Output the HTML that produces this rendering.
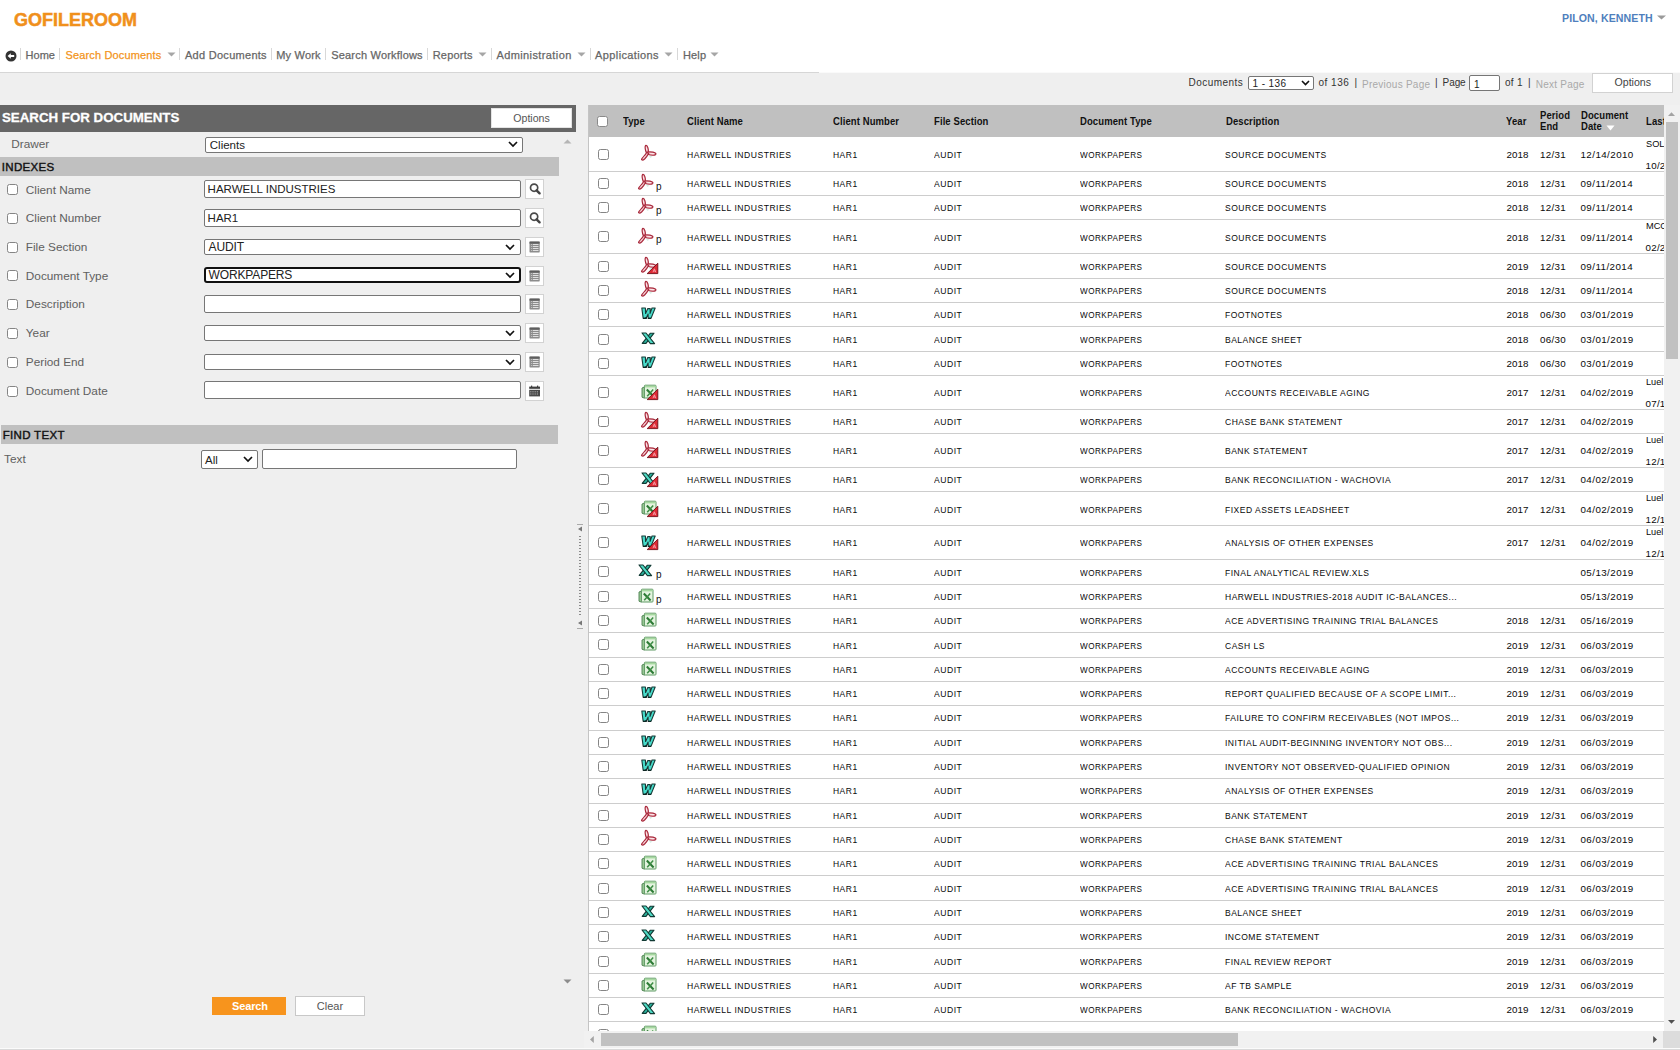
<!DOCTYPE html>
<html><head><meta charset="utf-8"><title>GoFileRoom</title>
<style>
html,body{margin:0;padding:0}
body{width:1680px;height:1050px;overflow:hidden;position:relative;background:#efefef;font-family:"Liberation Sans", sans-serif}
.t{position:absolute;white-space:nowrap;font-family:"Liberation Sans", sans-serif}
.b{position:absolute;box-sizing:content-box}
.cb{width:9px;height:9px;border:1px solid #858585;border-radius:2.5px;background:#fff}
.inp{background:#fff;border:1px solid #767676;border-radius:2px;width:315px}
.sel{background:#fff;border:1px solid #767676}
svg.b{overflow:visible}
</style></head><body>
<svg width="0" height="0" style="position:absolute">
<defs>
<g id="i_pdf">
 <path d="M5.6 8.2 C4.0 5.0 3.6 0.6 5.0 0.4 C6.6 0.2 7.8 4.8 7.3 7.8 Z" fill="#f5c2ca" stroke="#a8293b" stroke-width="1.2"/>
 <path d="M6.8 7.0 C9.8 6.6 14.8 7.2 14.9 8.9 C15.0 10.6 10.2 10.6 6.8 9.3 Z" fill="#f5c2ca" stroke="#a8293b" stroke-width="1.2"/>
 <path d="M5.8 7.2 C4.6 9.6 1.8 12.4 0.8 13.8 C-0.2 15.2 1.8 15.6 3.6 14.0 C5.2 12.4 6.8 10.2 7.6 8.6 Z" fill="#f5c2ca" stroke="#a8293b" stroke-width="1.2"/>
 <path d="M5.3 2.5 L5.9 5.2 M9.2 8.4 L13.2 8.6 M4.6 10.6 L2.2 13.4" stroke="#fff" stroke-width="0.7" opacity="0.85"/>
 <path d="M7.5 10.2 L9.5 13.0 L11.5 11.4Z" fill="#a9d6c6" opacity="0.45"/>
</g>
<g id="i_doc">
 <path d="M0.8 1 L4.4 1 L4.6 6.4 L6.8 1.6 L9.2 1.6 L9.1 6.4 L11.0 1 L14.2 1 L10.0 11.4 L7.2 11.4 L7.1 7.0 L5.0 11.4 L2.2 11.4 Z" fill="#46dccb" stroke="#173a36" stroke-width="1.1" stroke-linejoin="round"/>
 <path d="M2.2 11.4 L5.0 11.4 L5.6 10.2 M7.2 11.4 L10 11.4" stroke="#0d2522" stroke-width="1.3"/>
</g>
<g id="i_xls">
 <path d="M13 1.2 L9.4 1.2 L1.2 11.4 L5 11.4 Z" fill="#2bb59f" stroke="#123a34" stroke-width="1.1" stroke-linejoin="round"/>
 <path d="M1 1 L5 1 L13.6 11.6 L9.4 11.6 Z" fill="#4fdcc6" stroke="#123a34" stroke-width="1.1" stroke-linejoin="round"/>
</g>
<g id="i_xlsx">
 <path d="M1 4 L3.5 3 L3.5 14.2 L1 13.2 Z" fill="#9ccc98" stroke="#4a7f4e" stroke-width="0.9"/>
 <rect x="3.4" y="1.2" width="11.6" height="12.8" rx="0.8" fill="#e4f4df" stroke="#5f9a64" stroke-width="1"/>
 <path d="M3.8 2.6 H14.6" stroke="#a6d9a0" stroke-width="1.6"/>
 <path d="M5.8 5.6 L12.6 12.4" stroke="#2c7a35" stroke-width="2.1"/>
 <path d="M12.2 5.6 L6.2 12.2" stroke="#3c8c44" stroke-width="1.5"/>
</g>
<g id="i_corner">
 <path d="M11.8 1.2 L11.8 11.6 L1.2 11.6 Z" fill="#de2a35" stroke="#6e0d16" stroke-width="0.9" stroke-linejoin="round"/>
 <path d="M7 10.2 L8.4 6.8 L9.8 10.2 M7.6 9 H9.2" stroke="#f6b0b8" stroke-width="0.8" fill="none"/>
</g>
</defs></svg>
<div class="b" style="left:0px;top:0px;width:1680px;height:72px;background:#fff"></div><div class="b" style="left:0px;top:72px;width:819px;height:1px;background:#d6d6d6"></div><div class="b" style="left:819px;top:72px;width:861px;height:1px;background:#fafafa"></div><div class="t" style="left:14.0px;top:11px;font-size:18px;line-height:18px;color:#f0901c;font-weight:bold;letter-spacing:0px;-webkit-text-stroke:0.5px #f0901c">GOFILEROOM</div><div class="t" style="left:1562.0px;top:13px;font-size:10.6px;line-height:10.6px;color:#4f7fbd;font-weight:bold;letter-spacing:0.1px;">PILON, KENNETH</div><svg class="b" style="left:1656px;top:15px" width="11" height="5"><path d="M1 0.5 L10 0.5 L5.5 4.5Z" fill="#9a9a9a"/></svg><svg class="b" style="left:5px;top:50px" width="12" height="12"><circle cx="6" cy="6" r="5.5" fill="#333"/><path d="M2.6 6 L5.8 3.2 L5.8 4.9 L9.2 4.9 L9.2 7.1 L5.8 7.1 L5.8 8.8Z" fill="#fff"/></svg><div class="b" style="left:20px;top:48px;width:1px;height:12px;background:#d8d8d8"></div><div class="b" style="left:59px;top:48px;width:1px;height:12px;background:#d8d8d8"></div><div class="b" style="left:179px;top:48px;width:1px;height:12px;background:#d8d8d8"></div><div class="b" style="left:271px;top:48px;width:1px;height:12px;background:#d8d8d8"></div><div class="b" style="left:325px;top:48px;width:1px;height:12px;background:#d8d8d8"></div><div class="b" style="left:427px;top:48px;width:1px;height:12px;background:#d8d8d8"></div><div class="b" style="left:491px;top:48px;width:1px;height:12px;background:#d8d8d8"></div><div class="b" style="left:590px;top:48px;width:1px;height:12px;background:#d8d8d8"></div><div class="b" style="left:677px;top:48px;width:1px;height:12px;background:#d8d8d8"></div><div class="t" style="left:25.6px;top:50px;font-size:11px;line-height:11px;color:#666;font-weight:normal;letter-spacing:0px;-webkit-text-stroke:0.25px #666">Home</div><div class="t" style="left:65.5px;top:50px;font-size:11px;line-height:11px;color:#f39420;font-weight:normal;letter-spacing:0.15px;-webkit-text-stroke:0.25px #f39420">Search Documents</div><div class="t" style="left:185.0px;top:50px;font-size:11px;line-height:11px;color:#666;font-weight:normal;letter-spacing:0.28px;-webkit-text-stroke:0.25px #666">Add Documents</div><div class="t" style="left:276.2px;top:50px;font-size:11px;line-height:11px;color:#666;font-weight:normal;letter-spacing:0.2px;-webkit-text-stroke:0.25px #666">My Work</div><div class="t" style="left:331.2px;top:50px;font-size:11px;line-height:11px;color:#666;font-weight:normal;letter-spacing:0.2px;-webkit-text-stroke:0.25px #666">Search Workflows</div><div class="t" style="left:432.7px;top:50px;font-size:11px;line-height:11px;color:#666;font-weight:normal;letter-spacing:0.2px;-webkit-text-stroke:0.25px #666">Reports</div><div class="t" style="left:496.4px;top:50px;font-size:11px;line-height:11px;color:#666;font-weight:normal;letter-spacing:0.4px;-webkit-text-stroke:0.25px #666">Administration</div><div class="t" style="left:595.1px;top:50px;font-size:11px;line-height:11px;color:#666;font-weight:normal;letter-spacing:0.38px;-webkit-text-stroke:0.25px #666">Applications</div><div class="t" style="left:682.9px;top:50px;font-size:11px;line-height:11px;color:#666;font-weight:normal;letter-spacing:0.2px;-webkit-text-stroke:0.25px #666">Help</div><svg class="b" style="left:166.5px;top:52px" width="9" height="5"><path d="M0.5 0.5 L8.5 0.5 L4.5 4.5Z" fill="#a6a6a6"/></svg><svg class="b" style="left:477.5px;top:52px" width="9" height="5"><path d="M0.5 0.5 L8.5 0.5 L4.5 4.5Z" fill="#a6a6a6"/></svg><svg class="b" style="left:576.5px;top:52px" width="9" height="5"><path d="M0.5 0.5 L8.5 0.5 L4.5 4.5Z" fill="#a6a6a6"/></svg><svg class="b" style="left:664px;top:52px" width="9" height="5"><path d="M0.5 0.5 L8.5 0.5 L4.5 4.5Z" fill="#a6a6a6"/></svg><svg class="b" style="left:710px;top:52px" width="9" height="5"><path d="M0.5 0.5 L8.5 0.5 L4.5 4.5Z" fill="#a6a6a6"/></svg><div class="t" style="left:1188.5px;top:78px;font-size:10px;line-height:10px;color:#333;font-weight:normal;letter-spacing:0.45px;">Documents</div><div class="b sel" style="left:1248px;top:76px;width:64px;height:12px;border-radius:2px"></div><div class="t" style="left:1252.5px;top:79px;font-size:10px;line-height:10px;color:#222;font-weight:normal;letter-spacing:0.4px;">1 - 136</div><svg class="b" style="left:1301px;top:80px" width="9" height="6"><path d="M1 1 L4.5 4.5 L8 1" stroke="#111" stroke-width="1.6" fill="none"/></svg><div class="t" style="left:1318.5px;top:78px;font-size:10px;line-height:10px;color:#333;font-weight:normal;letter-spacing:0.5px;">of 136</div><div class="t" style="left:1354.5px;top:78px;font-size:10px;line-height:10px;color:#333;font-weight:normal;letter-spacing:0px;">|</div><div class="t" style="left:1362.0px;top:80px;font-size:10px;line-height:10px;color:#a9a9a9;font-weight:normal;letter-spacing:0.25px;">Previous Page</div><div class="t" style="left:1435.0px;top:78px;font-size:10px;line-height:10px;color:#333;font-weight:normal;letter-spacing:0px;">|</div><div class="t" style="left:1442.6px;top:78px;font-size:10px;line-height:10px;color:#333;font-weight:normal;letter-spacing:-0.1px;">Page</div><div class="b sel" style="left:1469px;top:75px;width:29px;height:14px;border-radius:2px"></div><div class="t" style="left:1474.0px;top:80px;font-size:10px;line-height:10px;color:#222;font-weight:normal;letter-spacing:0px;">1</div><div class="t" style="left:1505.0px;top:78px;font-size:10px;line-height:10px;color:#333;font-weight:normal;letter-spacing:0.3px;">of 1</div><div class="t" style="left:1528.0px;top:78px;font-size:10px;line-height:10px;color:#333;font-weight:normal;letter-spacing:0px;">|</div><div class="t" style="left:1535.7px;top:80px;font-size:10px;line-height:10px;color:#a9a9a9;font-weight:normal;letter-spacing:0.25px;">Next Page</div><div class="b" style="left:1592px;top:73px;width:79px;height:18px;background:#fff;border:1px solid #d2d2d2"></div><div class="t" style="left:1614.5px;top:77px;font-size:10.6px;line-height:10.6px;color:#444;font-weight:normal;letter-spacing:0px;">Options</div><div class="b" style="left:0px;top:105px;width:576px;height:27px;background:#666"></div><div class="t" style="left:2.0px;top:111px;font-size:13.3px;line-height:13.3px;color:#fff;font-weight:bold;letter-spacing:0px;-webkit-text-stroke:0.3px #fff">SEARCH FOR DOCUMENTS</div><div class="b" style="left:491px;top:108px;width:79px;height:18px;background:#fff;border:1px solid #e4e4e4"></div><div class="t" style="left:513.3px;top:113px;font-size:10.6px;line-height:10.6px;color:#555;font-weight:normal;letter-spacing:0px;">Options</div><div class="t" style="left:11.2px;top:139px;font-size:11.8px;line-height:11.8px;color:#606060;font-weight:normal;letter-spacing:0px;">Drawer</div><div class="b sel" style="left:205px;top:137px;width:316px;height:14px;border-radius:2px"></div><div class="t" style="left:209.8px;top:140px;font-size:11.5px;line-height:11.5px;color:#222;font-weight:normal;letter-spacing:0px;">Clients</div><svg class="b" style="left:508px;top:141px" width="10" height="7"><path d="M1 1 L5 5 L9 1" stroke="#111" stroke-width="1.7" fill="none"/></svg><svg class="b" style="left:563px;top:139px" width="9" height="5"><path d="M0.5 4.5 L8.5 4.5 L4.5 0.5Z" fill="#b5b5b5"/></svg><div class="b" style="left:0px;top:157px;width:559px;height:19px;background:#c0c0c0"></div><div class="t" style="left:1.7px;top:162px;font-size:11.5px;line-height:11.5px;color:#111;font-weight:normal;letter-spacing:0.35px;-webkit-text-stroke:0.4px #111">INDEXES</div><div class="b cb" style="left:7px;top:184px"></div><div class="t" style="left:25.8px;top:185px;font-size:11.8px;line-height:11.8px;color:#606060;font-weight:normal;letter-spacing:0px;">Client Name</div><div class="b inp" style="left:204px;top:180px;width:315px;height:16px"></div><div class="t" style="left:207.6px;top:184px;font-size:11.5px;line-height:11.5px;color:#222;font-weight:normal;letter-spacing:0px;">HARWELL INDUSTRIES</div><div class="b" style="left:525px;top:179px;width:17px;height:18px;background:#fff;border:1px solid #d2d2d2"></div><svg class="b" style="left:525px;top:179px" width="19" height="20"><circle cx="9.1" cy="8.7" r="3.6" stroke="#4a4a4a" stroke-width="1.7" fill="none"/><path d="M11.6 11.3 L14.6 14.3" stroke="#444" stroke-width="2.4" stroke-linecap="round"/></svg><div class="b cb" style="left:7px;top:213px"></div><div class="t" style="left:25.8px;top:213px;font-size:11.8px;line-height:11.8px;color:#606060;font-weight:normal;letter-spacing:0px;">Client Number</div><div class="b inp" style="left:204px;top:209px;width:315px;height:16px"></div><div class="t" style="left:207.6px;top:213px;font-size:11.5px;line-height:11.5px;color:#222;font-weight:normal;letter-spacing:0px;">HAR1</div><div class="b" style="left:525px;top:208px;width:17px;height:18px;background:#fff;border:1px solid #d2d2d2"></div><svg class="b" style="left:525px;top:208px" width="19" height="20"><circle cx="9.1" cy="8.7" r="3.6" stroke="#4a4a4a" stroke-width="1.7" fill="none"/><path d="M11.6 11.3 L14.6 14.3" stroke="#444" stroke-width="2.4" stroke-linecap="round"/></svg><div class="b cb" style="left:7px;top:242px"></div><div class="t" style="left:25.8px;top:242px;font-size:11.8px;line-height:11.8px;color:#606060;font-weight:normal;letter-spacing:0px;">File Section</div><div class="b sel" style="left:204px;top:239px;width:315px;height:14px;border-radius:2px"></div><svg class="b" style="left:505px;top:244px" width="10" height="7"><path d="M1 1 L5 5 L9 1" stroke="#111" stroke-width="1.7" fill="none"/></svg><div class="t" style="left:208.6px;top:241px;font-size:12px;line-height:12px;color:#222;font-weight:normal;letter-spacing:-0.15px;">AUDIT</div><div class="b" style="left:525px;top:237px;width:17px;height:18px;background:#fff;border:1px solid #d2d2d2"></div><svg class="b" style="left:525px;top:237px" width="19" height="20"><rect x="4.5" y="4.6" width="10.2" height="11" rx="1.2" fill="#8c8c8c"/><rect x="4.5" y="4.6" width="10.2" height="2" fill="#5e5e5e"/><path d="M6.3 7.5h7.2M6.3 9.5h7.2M6.3 11.5h7.2M6.3 13.5h7.2" stroke="#f4f4f4" stroke-width="0.8"/><path d="M7.4 7v7" stroke="#8c8c8c" stroke-width="0.9"/></svg><div class="b cb" style="left:7px;top:270px"></div><div class="t" style="left:25.8px;top:271px;font-size:11.8px;line-height:11.8px;color:#606060;font-weight:normal;letter-spacing:0px;">Document Type</div><div class="b" style="left:204px;top:267px;width:313px;height:12px;border:2px solid #111;border-radius:3px;background:#fff"></div><svg class="b" style="left:505px;top:272px" width="10" height="7"><path d="M1 1 L5 5 L9 1" stroke="#111" stroke-width="1.7" fill="none"/></svg><div class="t" style="left:208.6px;top:269px;font-size:12px;line-height:12px;color:#222;font-weight:normal;letter-spacing:-0.15px;">WORKPAPERS</div><div class="b" style="left:525px;top:266px;width:17px;height:18px;background:#fff;border:1px solid #d2d2d2"></div><svg class="b" style="left:525px;top:266px" width="19" height="20"><rect x="4.5" y="4.6" width="10.2" height="11" rx="1.2" fill="#8c8c8c"/><rect x="4.5" y="4.6" width="10.2" height="2" fill="#5e5e5e"/><path d="M6.3 7.5h7.2M6.3 9.5h7.2M6.3 11.5h7.2M6.3 13.5h7.2" stroke="#f4f4f4" stroke-width="0.8"/><path d="M7.4 7v7" stroke="#8c8c8c" stroke-width="0.9"/></svg><div class="b cb" style="left:7px;top:299px"></div><div class="t" style="left:25.8px;top:299px;font-size:11.8px;line-height:11.8px;color:#606060;font-weight:normal;letter-spacing:0px;">Description</div><div class="b inp" style="left:204px;top:295px;width:315px;height:16px"></div><div class="b" style="left:525px;top:294px;width:17px;height:18px;background:#fff;border:1px solid #d2d2d2"></div><svg class="b" style="left:525px;top:294px" width="19" height="20"><rect x="4.5" y="4.6" width="10.2" height="11" rx="1.2" fill="#8c8c8c"/><rect x="4.5" y="4.6" width="10.2" height="2" fill="#5e5e5e"/><path d="M6.3 7.5h7.2M6.3 9.5h7.2M6.3 11.5h7.2M6.3 13.5h7.2" stroke="#f4f4f4" stroke-width="0.8"/><path d="M7.4 7v7" stroke="#8c8c8c" stroke-width="0.9"/></svg><div class="b cb" style="left:7px;top:328px"></div><div class="t" style="left:25.8px;top:328px;font-size:11.8px;line-height:11.8px;color:#606060;font-weight:normal;letter-spacing:0px;">Year</div><div class="b sel" style="left:204px;top:325px;width:315px;height:14px;border-radius:2px"></div><svg class="b" style="left:505px;top:330px" width="10" height="7"><path d="M1 1 L5 5 L9 1" stroke="#111" stroke-width="1.7" fill="none"/></svg><div class="b" style="left:525px;top:323px;width:17px;height:18px;background:#fff;border:1px solid #d2d2d2"></div><svg class="b" style="left:525px;top:323px" width="19" height="20"><rect x="4.5" y="4.6" width="10.2" height="11" rx="1.2" fill="#8c8c8c"/><rect x="4.5" y="4.6" width="10.2" height="2" fill="#5e5e5e"/><path d="M6.3 7.5h7.2M6.3 9.5h7.2M6.3 11.5h7.2M6.3 13.5h7.2" stroke="#f4f4f4" stroke-width="0.8"/><path d="M7.4 7v7" stroke="#8c8c8c" stroke-width="0.9"/></svg><div class="b cb" style="left:7px;top:357px"></div><div class="t" style="left:25.8px;top:357px;font-size:11.8px;line-height:11.8px;color:#606060;font-weight:normal;letter-spacing:0px;">Period End</div><div class="b sel" style="left:204px;top:354px;width:315px;height:14px;border-radius:2px"></div><svg class="b" style="left:505px;top:359px" width="10" height="7"><path d="M1 1 L5 5 L9 1" stroke="#111" stroke-width="1.7" fill="none"/></svg><div class="b" style="left:525px;top:352px;width:17px;height:18px;background:#fff;border:1px solid #d2d2d2"></div><svg class="b" style="left:525px;top:352px" width="19" height="20"><rect x="4.5" y="4.6" width="10.2" height="11" rx="1.2" fill="#8c8c8c"/><rect x="4.5" y="4.6" width="10.2" height="2" fill="#5e5e5e"/><path d="M6.3 7.5h7.2M6.3 9.5h7.2M6.3 11.5h7.2M6.3 13.5h7.2" stroke="#f4f4f4" stroke-width="0.8"/><path d="M7.4 7v7" stroke="#8c8c8c" stroke-width="0.9"/></svg><div class="b cb" style="left:7px;top:386px"></div><div class="t" style="left:25.8px;top:386px;font-size:11.8px;line-height:11.8px;color:#606060;font-weight:normal;letter-spacing:0px;">Document Date</div><div class="b inp" style="left:204px;top:381px;width:315px;height:16px"></div><div class="b" style="left:525px;top:381px;width:17px;height:18px;background:#fff;border:1px solid #d2d2d2"></div><svg class="b" style="left:525px;top:381px" width="19" height="20"><rect x="4.2" y="5.6" width="10.8" height="2.2" fill="#3e3e3e"/><rect x="6" y="4.6" width="1.2" height="1.5" fill="#3e3e3e"/><rect x="12" y="4.6" width="1.2" height="1.5" fill="#3e3e3e"/><rect x="4.2" y="8.8" width="10.8" height="6.6" fill="#4a4a4a"/><path d="M5.2 10.8h8.8M5.2 13h8.8" stroke="#ddd" stroke-width="0.7" stroke-dasharray="1.2 1"/></svg><div class="b" style="left:1px;top:425px;width:557px;height:19px;background:#c0c0c0"></div><div class="t" style="left:2.8px;top:430px;font-size:11.5px;line-height:11.5px;color:#111;font-weight:normal;letter-spacing:0.3px;-webkit-text-stroke:0.4px #111">FIND TEXT</div><div class="t" style="left:4.1px;top:454px;font-size:11.8px;line-height:11.8px;color:#606060;font-weight:normal;letter-spacing:0px;">Text</div><div class="b sel" style="left:201px;top:450px;width:55px;height:17px;border-radius:2px"></div><div class="t" style="left:205.0px;top:455px;font-size:11.5px;line-height:11.5px;color:#222;font-weight:normal;letter-spacing:0px;">All</div><svg class="b" style="left:243px;top:456px" width="10" height="7"><path d="M1 1 L5 5 L9 1" stroke="#111" stroke-width="1.7" fill="none"/></svg><div class="b inp" style="left:262px;top:449px;width:253px;height:18px"></div><svg class="b" style="left:576px;top:524px" width="8" height="105"><path d="M1 0.5h6M1 104.5h6" stroke="#aaa"/><path d="M2 5 L6 2.5 L6 7.5Z M2 99 L6 96.5 L6 101.5Z" fill="#777"/><path d="M4 12 V93" stroke="#8a8a8a" stroke-width="2" stroke-dasharray="1 2"/></svg><svg class="b" style="left:563px;top:979px" width="9" height="5"><path d="M0.5 0.5 L8.5 0.5 L4.5 4.5Z" fill="#8c8c8c"/></svg><div class="b" style="left:212px;top:997px;width:74px;height:18px;background:#f7941d"></div><div class="t" style="left:231.9px;top:1001px;font-size:11px;line-height:11px;color:#fff;font-weight:bold;letter-spacing:-0.1px;">Search</div><div class="b" style="left:295px;top:996px;width:68px;height:18px;background:#fff;border:1px solid #c8c8c8"></div><div class="t" style="left:316.8px;top:1001px;font-size:11px;line-height:11px;color:#555;font-weight:normal;letter-spacing:0px;">Clear</div><div class="b" style="left:588px;top:105px;width:1076px;height:926px;background:#fff;overflow:hidden" id="tbl"><div class="b" style="left:0px;top:0px;width:1076px;height:32px;background:#c0c0c0"></div><div class="b cb" style="left:9px;top:11px;border-color:#8a8a8a"></div><div class="t" style="left:34.5px;top:12px;font-size:10px;line-height:10px;color:#111;font-weight:bold;letter-spacing:0.1px;transform:scaleX(0.95);transform-origin:0 0;">Type</div><div class="t" style="left:99.0px;top:12px;font-size:10px;line-height:10px;color:#111;font-weight:bold;letter-spacing:0.1px;transform:scaleX(0.95);transform-origin:0 0;">Client Name</div><div class="t" style="left:244.5px;top:12px;font-size:10px;line-height:10px;color:#111;font-weight:bold;letter-spacing:0.1px;transform:scaleX(0.95);transform-origin:0 0;">Client Number</div><div class="t" style="left:345.8px;top:12px;font-size:10px;line-height:10px;color:#111;font-weight:bold;letter-spacing:0.1px;transform:scaleX(0.95);transform-origin:0 0;">File Section</div><div class="t" style="left:491.6px;top:12px;font-size:10px;line-height:10px;color:#111;font-weight:bold;letter-spacing:0.1px;transform:scaleX(0.95);transform-origin:0 0;">Document Type</div><div class="t" style="left:637.7px;top:12px;font-size:10px;line-height:10px;color:#111;font-weight:bold;letter-spacing:0.1px;transform:scaleX(0.95);transform-origin:0 0;">Description</div><div class="t" style="left:918.4px;top:12px;font-size:10px;line-height:10px;color:#111;font-weight:bold;letter-spacing:0.1px;transform:scaleX(0.95);transform-origin:0 0;">Year</div><div class="t" style="left:1057.5px;top:12px;font-size:10px;line-height:10px;color:#111;font-weight:bold;letter-spacing:0.1px;transform:scaleX(0.95);transform-origin:0 0;">Last</div><div class="t" style="left:951.8px;top:6px;font-size:10px;line-height:10px;color:#111;font-weight:bold;letter-spacing:0.1px;transform:scaleX(0.95);transform-origin:0 0;">Period</div><div class="t" style="left:951.8px;top:17px;font-size:10px;line-height:10px;color:#111;font-weight:bold;letter-spacing:0.1px;transform:scaleX(0.95);transform-origin:0 0;">End</div><div class="t" style="left:992.5px;top:6px;font-size:10px;line-height:10px;color:#111;font-weight:bold;letter-spacing:0.1px;transform:scaleX(0.95);transform-origin:0 0;">Document</div><div class="t" style="left:992.5px;top:17px;font-size:10px;line-height:10px;color:#111;font-weight:bold;letter-spacing:0.1px;transform:scaleX(0.95);transform-origin:0 0;">Date</div><svg class="b" style="left:1018px;top:20px" width="9" height="6"><path d="M0.5 0.5 L8.5 0.5 L4.5 5.5Z" fill="#fff"/></svg><div class="b" style="left:0px;top:66px;width:1076px;height:1px;background:#cdcdcd"></div><div class="b cb" style="left:10px;top:44px"></div><svg class="b" style="left:53px;top:40px" width="18" height="16"><use href="#i_pdf"/></svg><div class="t" style="left:99.0px;top:45px;font-size:9.8px;line-height:9.8px;color:#0a0a0a;font-weight:normal;letter-spacing:0.56px;transform:scaleX(0.878);transform-origin:0 0;">HARWELL INDUSTRIES</div><div class="t" style="left:244.5px;top:45px;font-size:9.8px;line-height:9.8px;color:#0a0a0a;font-weight:normal;letter-spacing:0.56px;transform:scaleX(0.867);transform-origin:0 0;">HAR1</div><div class="t" style="left:345.8px;top:45px;font-size:9.8px;line-height:9.8px;color:#0a0a0a;font-weight:normal;letter-spacing:0.56px;transform:scaleX(0.878);transform-origin:0 0;">AUDIT</div><div class="t" style="left:491.8px;top:45px;font-size:9.8px;line-height:9.8px;color:#0a0a0a;font-weight:normal;letter-spacing:0.56px;transform:scaleX(0.832);transform-origin:0 0;">WORKPAPERS</div><div class="t" style="left:637.0px;top:45px;font-size:9.8px;line-height:9.8px;color:#0a0a0a;font-weight:normal;letter-spacing:0.56px;transform:scaleX(0.872);transform-origin:0 0;">SOURCE DOCUMENTS</div><div class="t" style="left:918.4px;top:45px;font-size:9.8px;line-height:9.8px;color:#0a0a0a;font-weight:normal;letter-spacing:0.12px;">2018</div><div class="t" style="left:952.0px;top:45px;font-size:9.8px;line-height:9.8px;color:#0a0a0a;font-weight:normal;letter-spacing:0.32px;">12/31</div><div class="t" style="left:992.5px;top:45px;font-size:9.8px;line-height:9.8px;color:#0a0a0a;font-weight:normal;letter-spacing:0.42px;">12/14/2010</div><div class="t" style="left:1057.5px;top:34px;font-size:9.8px;line-height:9.8px;color:#0a0a0a;font-weight:normal;letter-spacing:0px;transform:scaleX(0.94);transform-origin:0 0;">SOL</div><div class="t" style="left:1057.5px;top:56px;font-size:9.8px;line-height:9.8px;color:#0a0a0a;font-weight:normal;letter-spacing:0.25px;">10/2</div><div class="b" style="left:0px;top:90px;width:1076px;height:1px;background:#cdcdcd"></div><div class="b cb" style="left:10px;top:73px"></div><svg class="b" style="left:50px;top:69px" width="18" height="16"><use href="#i_pdf"/></svg><div class="t" style="left:68.0px;top:77px;font-size:10px;line-height:10px;color:#111;font-weight:normal;letter-spacing:0px;">p</div><div class="t" style="left:99.0px;top:74px;font-size:9.8px;line-height:9.8px;color:#0a0a0a;font-weight:normal;letter-spacing:0.56px;transform:scaleX(0.878);transform-origin:0 0;">HARWELL INDUSTRIES</div><div class="t" style="left:244.5px;top:74px;font-size:9.8px;line-height:9.8px;color:#0a0a0a;font-weight:normal;letter-spacing:0.56px;transform:scaleX(0.867);transform-origin:0 0;">HAR1</div><div class="t" style="left:345.8px;top:74px;font-size:9.8px;line-height:9.8px;color:#0a0a0a;font-weight:normal;letter-spacing:0.56px;transform:scaleX(0.878);transform-origin:0 0;">AUDIT</div><div class="t" style="left:491.8px;top:74px;font-size:9.8px;line-height:9.8px;color:#0a0a0a;font-weight:normal;letter-spacing:0.56px;transform:scaleX(0.832);transform-origin:0 0;">WORKPAPERS</div><div class="t" style="left:637.0px;top:74px;font-size:9.8px;line-height:9.8px;color:#0a0a0a;font-weight:normal;letter-spacing:0.56px;transform:scaleX(0.872);transform-origin:0 0;">SOURCE DOCUMENTS</div><div class="t" style="left:918.4px;top:74px;font-size:9.8px;line-height:9.8px;color:#0a0a0a;font-weight:normal;letter-spacing:0.12px;">2018</div><div class="t" style="left:952.0px;top:74px;font-size:9.8px;line-height:9.8px;color:#0a0a0a;font-weight:normal;letter-spacing:0.32px;">12/31</div><div class="t" style="left:992.5px;top:74px;font-size:9.8px;line-height:9.8px;color:#0a0a0a;font-weight:normal;letter-spacing:0.42px;">09/11/2014</div><div class="b" style="left:0px;top:114px;width:1076px;height:1px;background:#cdcdcd"></div><div class="b cb" style="left:10px;top:97px"></div><svg class="b" style="left:50px;top:93px" width="18" height="16"><use href="#i_pdf"/></svg><div class="t" style="left:68.0px;top:101px;font-size:10px;line-height:10px;color:#111;font-weight:normal;letter-spacing:0px;">p</div><div class="t" style="left:99.0px;top:98px;font-size:9.8px;line-height:9.8px;color:#0a0a0a;font-weight:normal;letter-spacing:0.56px;transform:scaleX(0.878);transform-origin:0 0;">HARWELL INDUSTRIES</div><div class="t" style="left:244.5px;top:98px;font-size:9.8px;line-height:9.8px;color:#0a0a0a;font-weight:normal;letter-spacing:0.56px;transform:scaleX(0.867);transform-origin:0 0;">HAR1</div><div class="t" style="left:345.8px;top:98px;font-size:9.8px;line-height:9.8px;color:#0a0a0a;font-weight:normal;letter-spacing:0.56px;transform:scaleX(0.878);transform-origin:0 0;">AUDIT</div><div class="t" style="left:491.8px;top:98px;font-size:9.8px;line-height:9.8px;color:#0a0a0a;font-weight:normal;letter-spacing:0.56px;transform:scaleX(0.832);transform-origin:0 0;">WORKPAPERS</div><div class="t" style="left:637.0px;top:98px;font-size:9.8px;line-height:9.8px;color:#0a0a0a;font-weight:normal;letter-spacing:0.56px;transform:scaleX(0.872);transform-origin:0 0;">SOURCE DOCUMENTS</div><div class="t" style="left:918.4px;top:98px;font-size:9.8px;line-height:9.8px;color:#0a0a0a;font-weight:normal;letter-spacing:0.12px;">2018</div><div class="t" style="left:952.0px;top:98px;font-size:9.8px;line-height:9.8px;color:#0a0a0a;font-weight:normal;letter-spacing:0.32px;">12/31</div><div class="t" style="left:992.5px;top:98px;font-size:9.8px;line-height:9.8px;color:#0a0a0a;font-weight:normal;letter-spacing:0.42px;">09/11/2014</div><div class="b" style="left:0px;top:148px;width:1076px;height:1px;background:#cdcdcd"></div><div class="b cb" style="left:10px;top:126px"></div><svg class="b" style="left:50px;top:123px" width="18" height="16"><use href="#i_pdf"/></svg><div class="t" style="left:68.0px;top:130px;font-size:10px;line-height:10px;color:#111;font-weight:normal;letter-spacing:0px;">p</div><div class="t" style="left:99.0px;top:128px;font-size:9.8px;line-height:9.8px;color:#0a0a0a;font-weight:normal;letter-spacing:0.56px;transform:scaleX(0.878);transform-origin:0 0;">HARWELL INDUSTRIES</div><div class="t" style="left:244.5px;top:128px;font-size:9.8px;line-height:9.8px;color:#0a0a0a;font-weight:normal;letter-spacing:0.56px;transform:scaleX(0.867);transform-origin:0 0;">HAR1</div><div class="t" style="left:345.8px;top:128px;font-size:9.8px;line-height:9.8px;color:#0a0a0a;font-weight:normal;letter-spacing:0.56px;transform:scaleX(0.878);transform-origin:0 0;">AUDIT</div><div class="t" style="left:491.8px;top:128px;font-size:9.8px;line-height:9.8px;color:#0a0a0a;font-weight:normal;letter-spacing:0.56px;transform:scaleX(0.832);transform-origin:0 0;">WORKPAPERS</div><div class="t" style="left:637.0px;top:128px;font-size:9.8px;line-height:9.8px;color:#0a0a0a;font-weight:normal;letter-spacing:0.56px;transform:scaleX(0.872);transform-origin:0 0;">SOURCE DOCUMENTS</div><div class="t" style="left:918.4px;top:128px;font-size:9.8px;line-height:9.8px;color:#0a0a0a;font-weight:normal;letter-spacing:0.12px;">2018</div><div class="t" style="left:952.0px;top:128px;font-size:9.8px;line-height:9.8px;color:#0a0a0a;font-weight:normal;letter-spacing:0.32px;">12/31</div><div class="t" style="left:992.5px;top:128px;font-size:9.8px;line-height:9.8px;color:#0a0a0a;font-weight:normal;letter-spacing:0.42px;">09/11/2014</div><div class="t" style="left:1057.5px;top:116px;font-size:9.8px;line-height:9.8px;color:#0a0a0a;font-weight:normal;letter-spacing:0px;transform:scaleX(0.94);transform-origin:0 0;">MCC</div><div class="t" style="left:1057.5px;top:138px;font-size:9.8px;line-height:9.8px;color:#0a0a0a;font-weight:normal;letter-spacing:0.25px;">02/2</div><div class="b" style="left:0px;top:173px;width:1076px;height:1px;background:#cdcdcd"></div><div class="b cb" style="left:10px;top:156px"></div><svg class="b" style="left:53px;top:152px" width="18" height="16"><use href="#i_pdf"/></svg><svg class="b" style="left:58px;top:157px" width="13" height="13"><use href="#i_corner"/></svg><div class="t" style="left:99.0px;top:157px;font-size:9.8px;line-height:9.8px;color:#0a0a0a;font-weight:normal;letter-spacing:0.56px;transform:scaleX(0.878);transform-origin:0 0;">HARWELL INDUSTRIES</div><div class="t" style="left:244.5px;top:157px;font-size:9.8px;line-height:9.8px;color:#0a0a0a;font-weight:normal;letter-spacing:0.56px;transform:scaleX(0.867);transform-origin:0 0;">HAR1</div><div class="t" style="left:345.8px;top:157px;font-size:9.8px;line-height:9.8px;color:#0a0a0a;font-weight:normal;letter-spacing:0.56px;transform:scaleX(0.878);transform-origin:0 0;">AUDIT</div><div class="t" style="left:491.8px;top:157px;font-size:9.8px;line-height:9.8px;color:#0a0a0a;font-weight:normal;letter-spacing:0.56px;transform:scaleX(0.832);transform-origin:0 0;">WORKPAPERS</div><div class="t" style="left:637.0px;top:157px;font-size:9.8px;line-height:9.8px;color:#0a0a0a;font-weight:normal;letter-spacing:0.56px;transform:scaleX(0.872);transform-origin:0 0;">SOURCE DOCUMENTS</div><div class="t" style="left:918.4px;top:157px;font-size:9.8px;line-height:9.8px;color:#0a0a0a;font-weight:normal;letter-spacing:0.12px;">2019</div><div class="t" style="left:952.0px;top:157px;font-size:9.8px;line-height:9.8px;color:#0a0a0a;font-weight:normal;letter-spacing:0.32px;">12/31</div><div class="t" style="left:992.5px;top:157px;font-size:9.8px;line-height:9.8px;color:#0a0a0a;font-weight:normal;letter-spacing:0.42px;">09/11/2014</div><div class="b" style="left:0px;top:197px;width:1076px;height:1px;background:#cdcdcd"></div><div class="b cb" style="left:10px;top:180px"></div><svg class="b" style="left:53px;top:176px" width="18" height="16"><use href="#i_pdf"/></svg><div class="t" style="left:99.0px;top:181px;font-size:9.8px;line-height:9.8px;color:#0a0a0a;font-weight:normal;letter-spacing:0.56px;transform:scaleX(0.878);transform-origin:0 0;">HARWELL INDUSTRIES</div><div class="t" style="left:244.5px;top:181px;font-size:9.8px;line-height:9.8px;color:#0a0a0a;font-weight:normal;letter-spacing:0.56px;transform:scaleX(0.867);transform-origin:0 0;">HAR1</div><div class="t" style="left:345.8px;top:181px;font-size:9.8px;line-height:9.8px;color:#0a0a0a;font-weight:normal;letter-spacing:0.56px;transform:scaleX(0.878);transform-origin:0 0;">AUDIT</div><div class="t" style="left:491.8px;top:181px;font-size:9.8px;line-height:9.8px;color:#0a0a0a;font-weight:normal;letter-spacing:0.56px;transform:scaleX(0.832);transform-origin:0 0;">WORKPAPERS</div><div class="t" style="left:637.0px;top:181px;font-size:9.8px;line-height:9.8px;color:#0a0a0a;font-weight:normal;letter-spacing:0.56px;transform:scaleX(0.872);transform-origin:0 0;">SOURCE DOCUMENTS</div><div class="t" style="left:918.4px;top:181px;font-size:9.8px;line-height:9.8px;color:#0a0a0a;font-weight:normal;letter-spacing:0.12px;">2018</div><div class="t" style="left:952.0px;top:181px;font-size:9.8px;line-height:9.8px;color:#0a0a0a;font-weight:normal;letter-spacing:0.32px;">12/31</div><div class="t" style="left:992.5px;top:181px;font-size:9.8px;line-height:9.8px;color:#0a0a0a;font-weight:normal;letter-spacing:0.42px;">09/11/2014</div><div class="b" style="left:0px;top:221px;width:1076px;height:1px;background:#cdcdcd"></div><div class="b cb" style="left:10px;top:204px"></div><svg class="b" style="left:53px;top:202px" width="18" height="16"><use href="#i_doc"/></svg><div class="t" style="left:99.0px;top:205px;font-size:9.8px;line-height:9.8px;color:#0a0a0a;font-weight:normal;letter-spacing:0.56px;transform:scaleX(0.878);transform-origin:0 0;">HARWELL INDUSTRIES</div><div class="t" style="left:244.5px;top:205px;font-size:9.8px;line-height:9.8px;color:#0a0a0a;font-weight:normal;letter-spacing:0.56px;transform:scaleX(0.867);transform-origin:0 0;">HAR1</div><div class="t" style="left:345.8px;top:205px;font-size:9.8px;line-height:9.8px;color:#0a0a0a;font-weight:normal;letter-spacing:0.56px;transform:scaleX(0.878);transform-origin:0 0;">AUDIT</div><div class="t" style="left:491.8px;top:205px;font-size:9.8px;line-height:9.8px;color:#0a0a0a;font-weight:normal;letter-spacing:0.56px;transform:scaleX(0.832);transform-origin:0 0;">WORKPAPERS</div><div class="t" style="left:637.0px;top:205px;font-size:9.8px;line-height:9.8px;color:#0a0a0a;font-weight:normal;letter-spacing:0.56px;transform:scaleX(0.872);transform-origin:0 0;">FOOTNOTES</div><div class="t" style="left:918.4px;top:205px;font-size:9.8px;line-height:9.8px;color:#0a0a0a;font-weight:normal;letter-spacing:0.12px;">2018</div><div class="t" style="left:952.0px;top:205px;font-size:9.8px;line-height:9.8px;color:#0a0a0a;font-weight:normal;letter-spacing:0.32px;">06/30</div><div class="t" style="left:992.5px;top:205px;font-size:9.8px;line-height:9.8px;color:#0a0a0a;font-weight:normal;letter-spacing:0.42px;">03/01/2019</div><div class="b" style="left:0px;top:246px;width:1076px;height:1px;background:#cdcdcd"></div><div class="b cb" style="left:10px;top:229px"></div><svg class="b" style="left:53px;top:227px" width="18" height="16"><use href="#i_xls"/></svg><div class="t" style="left:99.0px;top:230px;font-size:9.8px;line-height:9.8px;color:#0a0a0a;font-weight:normal;letter-spacing:0.56px;transform:scaleX(0.878);transform-origin:0 0;">HARWELL INDUSTRIES</div><div class="t" style="left:244.5px;top:230px;font-size:9.8px;line-height:9.8px;color:#0a0a0a;font-weight:normal;letter-spacing:0.56px;transform:scaleX(0.867);transform-origin:0 0;">HAR1</div><div class="t" style="left:345.8px;top:230px;font-size:9.8px;line-height:9.8px;color:#0a0a0a;font-weight:normal;letter-spacing:0.56px;transform:scaleX(0.878);transform-origin:0 0;">AUDIT</div><div class="t" style="left:491.8px;top:230px;font-size:9.8px;line-height:9.8px;color:#0a0a0a;font-weight:normal;letter-spacing:0.56px;transform:scaleX(0.832);transform-origin:0 0;">WORKPAPERS</div><div class="t" style="left:637.0px;top:230px;font-size:9.8px;line-height:9.8px;color:#0a0a0a;font-weight:normal;letter-spacing:0.56px;transform:scaleX(0.872);transform-origin:0 0;">BALANCE SHEET</div><div class="t" style="left:918.4px;top:230px;font-size:9.8px;line-height:9.8px;color:#0a0a0a;font-weight:normal;letter-spacing:0.12px;">2018</div><div class="t" style="left:952.0px;top:230px;font-size:9.8px;line-height:9.8px;color:#0a0a0a;font-weight:normal;letter-spacing:0.32px;">06/30</div><div class="t" style="left:992.5px;top:230px;font-size:9.8px;line-height:9.8px;color:#0a0a0a;font-weight:normal;letter-spacing:0.42px;">03/01/2019</div><div class="b" style="left:0px;top:270px;width:1076px;height:1px;background:#cdcdcd"></div><div class="b cb" style="left:10px;top:253px"></div><svg class="b" style="left:53px;top:251px" width="18" height="16"><use href="#i_doc"/></svg><div class="t" style="left:99.0px;top:254px;font-size:9.8px;line-height:9.8px;color:#0a0a0a;font-weight:normal;letter-spacing:0.56px;transform:scaleX(0.878);transform-origin:0 0;">HARWELL INDUSTRIES</div><div class="t" style="left:244.5px;top:254px;font-size:9.8px;line-height:9.8px;color:#0a0a0a;font-weight:normal;letter-spacing:0.56px;transform:scaleX(0.867);transform-origin:0 0;">HAR1</div><div class="t" style="left:345.8px;top:254px;font-size:9.8px;line-height:9.8px;color:#0a0a0a;font-weight:normal;letter-spacing:0.56px;transform:scaleX(0.878);transform-origin:0 0;">AUDIT</div><div class="t" style="left:491.8px;top:254px;font-size:9.8px;line-height:9.8px;color:#0a0a0a;font-weight:normal;letter-spacing:0.56px;transform:scaleX(0.832);transform-origin:0 0;">WORKPAPERS</div><div class="t" style="left:637.0px;top:254px;font-size:9.8px;line-height:9.8px;color:#0a0a0a;font-weight:normal;letter-spacing:0.56px;transform:scaleX(0.872);transform-origin:0 0;">FOOTNOTES</div><div class="t" style="left:918.4px;top:254px;font-size:9.8px;line-height:9.8px;color:#0a0a0a;font-weight:normal;letter-spacing:0.12px;">2018</div><div class="t" style="left:952.0px;top:254px;font-size:9.8px;line-height:9.8px;color:#0a0a0a;font-weight:normal;letter-spacing:0.32px;">06/30</div><div class="t" style="left:992.5px;top:254px;font-size:9.8px;line-height:9.8px;color:#0a0a0a;font-weight:normal;letter-spacing:0.42px;">03/01/2019</div><div class="b" style="left:0px;top:304px;width:1076px;height:1px;background:#cdcdcd"></div><div class="b cb" style="left:10px;top:282px"></div><svg class="b" style="left:53px;top:279px" width="18" height="16"><use href="#i_xlsx"/></svg><svg class="b" style="left:58px;top:283px" width="13" height="13"><use href="#i_corner"/></svg><div class="t" style="left:99.0px;top:283px;font-size:9.8px;line-height:9.8px;color:#0a0a0a;font-weight:normal;letter-spacing:0.56px;transform:scaleX(0.878);transform-origin:0 0;">HARWELL INDUSTRIES</div><div class="t" style="left:244.5px;top:283px;font-size:9.8px;line-height:9.8px;color:#0a0a0a;font-weight:normal;letter-spacing:0.56px;transform:scaleX(0.867);transform-origin:0 0;">HAR1</div><div class="t" style="left:345.8px;top:283px;font-size:9.8px;line-height:9.8px;color:#0a0a0a;font-weight:normal;letter-spacing:0.56px;transform:scaleX(0.878);transform-origin:0 0;">AUDIT</div><div class="t" style="left:491.8px;top:283px;font-size:9.8px;line-height:9.8px;color:#0a0a0a;font-weight:normal;letter-spacing:0.56px;transform:scaleX(0.832);transform-origin:0 0;">WORKPAPERS</div><div class="t" style="left:637.0px;top:283px;font-size:9.8px;line-height:9.8px;color:#0a0a0a;font-weight:normal;letter-spacing:0.56px;transform:scaleX(0.872);transform-origin:0 0;">ACCOUNTS RECEIVABLE AGING</div><div class="t" style="left:918.4px;top:283px;font-size:9.8px;line-height:9.8px;color:#0a0a0a;font-weight:normal;letter-spacing:0.12px;">2017</div><div class="t" style="left:952.0px;top:283px;font-size:9.8px;line-height:9.8px;color:#0a0a0a;font-weight:normal;letter-spacing:0.32px;">12/31</div><div class="t" style="left:992.5px;top:283px;font-size:9.8px;line-height:9.8px;color:#0a0a0a;font-weight:normal;letter-spacing:0.42px;">04/02/2019</div><div class="t" style="left:1057.5px;top:272px;font-size:9.8px;line-height:9.8px;color:#0a0a0a;font-weight:normal;letter-spacing:0px;transform:scaleX(0.94);transform-origin:0 0;">Luel</div><div class="t" style="left:1057.5px;top:294px;font-size:9.8px;line-height:9.8px;color:#0a0a0a;font-weight:normal;letter-spacing:0.25px;">07/1</div><div class="b" style="left:0px;top:328px;width:1076px;height:1px;background:#cdcdcd"></div><div class="b cb" style="left:10px;top:311px"></div><svg class="b" style="left:53px;top:307px" width="18" height="16"><use href="#i_pdf"/></svg><svg class="b" style="left:58px;top:312px" width="13" height="13"><use href="#i_corner"/></svg><div class="t" style="left:99.0px;top:312px;font-size:9.8px;line-height:9.8px;color:#0a0a0a;font-weight:normal;letter-spacing:0.56px;transform:scaleX(0.878);transform-origin:0 0;">HARWELL INDUSTRIES</div><div class="t" style="left:244.5px;top:312px;font-size:9.8px;line-height:9.8px;color:#0a0a0a;font-weight:normal;letter-spacing:0.56px;transform:scaleX(0.867);transform-origin:0 0;">HAR1</div><div class="t" style="left:345.8px;top:312px;font-size:9.8px;line-height:9.8px;color:#0a0a0a;font-weight:normal;letter-spacing:0.56px;transform:scaleX(0.878);transform-origin:0 0;">AUDIT</div><div class="t" style="left:491.8px;top:312px;font-size:9.8px;line-height:9.8px;color:#0a0a0a;font-weight:normal;letter-spacing:0.56px;transform:scaleX(0.832);transform-origin:0 0;">WORKPAPERS</div><div class="t" style="left:637.0px;top:312px;font-size:9.8px;line-height:9.8px;color:#0a0a0a;font-weight:normal;letter-spacing:0.56px;transform:scaleX(0.872);transform-origin:0 0;">CHASE BANK STATEMENT</div><div class="t" style="left:918.4px;top:312px;font-size:9.8px;line-height:9.8px;color:#0a0a0a;font-weight:normal;letter-spacing:0.12px;">2017</div><div class="t" style="left:952.0px;top:312px;font-size:9.8px;line-height:9.8px;color:#0a0a0a;font-weight:normal;letter-spacing:0.32px;">12/31</div><div class="t" style="left:992.5px;top:312px;font-size:9.8px;line-height:9.8px;color:#0a0a0a;font-weight:normal;letter-spacing:0.42px;">04/02/2019</div><div class="b" style="left:0px;top:362px;width:1076px;height:1px;background:#cdcdcd"></div><div class="b cb" style="left:10px;top:340px"></div><svg class="b" style="left:53px;top:336px" width="18" height="16"><use href="#i_pdf"/></svg><svg class="b" style="left:58px;top:341px" width="13" height="13"><use href="#i_corner"/></svg><div class="t" style="left:99.0px;top:341px;font-size:9.8px;line-height:9.8px;color:#0a0a0a;font-weight:normal;letter-spacing:0.56px;transform:scaleX(0.878);transform-origin:0 0;">HARWELL INDUSTRIES</div><div class="t" style="left:244.5px;top:341px;font-size:9.8px;line-height:9.8px;color:#0a0a0a;font-weight:normal;letter-spacing:0.56px;transform:scaleX(0.867);transform-origin:0 0;">HAR1</div><div class="t" style="left:345.8px;top:341px;font-size:9.8px;line-height:9.8px;color:#0a0a0a;font-weight:normal;letter-spacing:0.56px;transform:scaleX(0.878);transform-origin:0 0;">AUDIT</div><div class="t" style="left:491.8px;top:341px;font-size:9.8px;line-height:9.8px;color:#0a0a0a;font-weight:normal;letter-spacing:0.56px;transform:scaleX(0.832);transform-origin:0 0;">WORKPAPERS</div><div class="t" style="left:637.0px;top:341px;font-size:9.8px;line-height:9.8px;color:#0a0a0a;font-weight:normal;letter-spacing:0.56px;transform:scaleX(0.872);transform-origin:0 0;">BANK STATEMENT</div><div class="t" style="left:918.4px;top:341px;font-size:9.8px;line-height:9.8px;color:#0a0a0a;font-weight:normal;letter-spacing:0.12px;">2017</div><div class="t" style="left:952.0px;top:341px;font-size:9.8px;line-height:9.8px;color:#0a0a0a;font-weight:normal;letter-spacing:0.32px;">12/31</div><div class="t" style="left:992.5px;top:341px;font-size:9.8px;line-height:9.8px;color:#0a0a0a;font-weight:normal;letter-spacing:0.42px;">04/02/2019</div><div class="t" style="left:1057.5px;top:330px;font-size:9.8px;line-height:9.8px;color:#0a0a0a;font-weight:normal;letter-spacing:0px;transform:scaleX(0.94);transform-origin:0 0;">Luel</div><div class="t" style="left:1057.5px;top:352px;font-size:9.8px;line-height:9.8px;color:#0a0a0a;font-weight:normal;letter-spacing:0.25px;">12/1</div><div class="b" style="left:0px;top:386px;width:1076px;height:1px;background:#cdcdcd"></div><div class="b cb" style="left:10px;top:369px"></div><svg class="b" style="left:53px;top:367px" width="18" height="16"><use href="#i_xls"/></svg><svg class="b" style="left:58px;top:370px" width="13" height="13"><use href="#i_corner"/></svg><div class="t" style="left:99.0px;top:370px;font-size:9.8px;line-height:9.8px;color:#0a0a0a;font-weight:normal;letter-spacing:0.56px;transform:scaleX(0.878);transform-origin:0 0;">HARWELL INDUSTRIES</div><div class="t" style="left:244.5px;top:370px;font-size:9.8px;line-height:9.8px;color:#0a0a0a;font-weight:normal;letter-spacing:0.56px;transform:scaleX(0.867);transform-origin:0 0;">HAR1</div><div class="t" style="left:345.8px;top:370px;font-size:9.8px;line-height:9.8px;color:#0a0a0a;font-weight:normal;letter-spacing:0.56px;transform:scaleX(0.878);transform-origin:0 0;">AUDIT</div><div class="t" style="left:491.8px;top:370px;font-size:9.8px;line-height:9.8px;color:#0a0a0a;font-weight:normal;letter-spacing:0.56px;transform:scaleX(0.832);transform-origin:0 0;">WORKPAPERS</div><div class="t" style="left:637.0px;top:370px;font-size:9.8px;line-height:9.8px;color:#0a0a0a;font-weight:normal;letter-spacing:0.56px;transform:scaleX(0.872);transform-origin:0 0;">BANK RECONCILIATION - WACHOVIA</div><div class="t" style="left:918.4px;top:370px;font-size:9.8px;line-height:9.8px;color:#0a0a0a;font-weight:normal;letter-spacing:0.12px;">2017</div><div class="t" style="left:952.0px;top:370px;font-size:9.8px;line-height:9.8px;color:#0a0a0a;font-weight:normal;letter-spacing:0.32px;">12/31</div><div class="t" style="left:992.5px;top:370px;font-size:9.8px;line-height:9.8px;color:#0a0a0a;font-weight:normal;letter-spacing:0.42px;">04/02/2019</div><div class="b" style="left:0px;top:420px;width:1076px;height:1px;background:#cdcdcd"></div><div class="b cb" style="left:10px;top:398px"></div><svg class="b" style="left:53px;top:395px" width="18" height="16"><use href="#i_xlsx"/></svg><svg class="b" style="left:58px;top:400px" width="13" height="13"><use href="#i_corner"/></svg><div class="t" style="left:99.0px;top:400px;font-size:9.8px;line-height:9.8px;color:#0a0a0a;font-weight:normal;letter-spacing:0.56px;transform:scaleX(0.878);transform-origin:0 0;">HARWELL INDUSTRIES</div><div class="t" style="left:244.5px;top:400px;font-size:9.8px;line-height:9.8px;color:#0a0a0a;font-weight:normal;letter-spacing:0.56px;transform:scaleX(0.867);transform-origin:0 0;">HAR1</div><div class="t" style="left:345.8px;top:400px;font-size:9.8px;line-height:9.8px;color:#0a0a0a;font-weight:normal;letter-spacing:0.56px;transform:scaleX(0.878);transform-origin:0 0;">AUDIT</div><div class="t" style="left:491.8px;top:400px;font-size:9.8px;line-height:9.8px;color:#0a0a0a;font-weight:normal;letter-spacing:0.56px;transform:scaleX(0.832);transform-origin:0 0;">WORKPAPERS</div><div class="t" style="left:637.0px;top:400px;font-size:9.8px;line-height:9.8px;color:#0a0a0a;font-weight:normal;letter-spacing:0.56px;transform:scaleX(0.872);transform-origin:0 0;">FIXED ASSETS LEADSHEET</div><div class="t" style="left:918.4px;top:400px;font-size:9.8px;line-height:9.8px;color:#0a0a0a;font-weight:normal;letter-spacing:0.12px;">2017</div><div class="t" style="left:952.0px;top:400px;font-size:9.8px;line-height:9.8px;color:#0a0a0a;font-weight:normal;letter-spacing:0.32px;">12/31</div><div class="t" style="left:992.5px;top:400px;font-size:9.8px;line-height:9.8px;color:#0a0a0a;font-weight:normal;letter-spacing:0.42px;">04/02/2019</div><div class="t" style="left:1057.5px;top:388px;font-size:9.8px;line-height:9.8px;color:#0a0a0a;font-weight:normal;letter-spacing:0px;transform:scaleX(0.94);transform-origin:0 0;">Luel</div><div class="t" style="left:1057.5px;top:410px;font-size:9.8px;line-height:9.8px;color:#0a0a0a;font-weight:normal;letter-spacing:0.25px;">12/1</div><div class="b" style="left:0px;top:454px;width:1076px;height:1px;background:#cdcdcd"></div><div class="b cb" style="left:10px;top:432px"></div><svg class="b" style="left:53px;top:430px" width="18" height="16"><use href="#i_doc"/></svg><svg class="b" style="left:58px;top:433px" width="13" height="13"><use href="#i_corner"/></svg><div class="t" style="left:99.0px;top:433px;font-size:9.8px;line-height:9.8px;color:#0a0a0a;font-weight:normal;letter-spacing:0.56px;transform:scaleX(0.878);transform-origin:0 0;">HARWELL INDUSTRIES</div><div class="t" style="left:244.5px;top:433px;font-size:9.8px;line-height:9.8px;color:#0a0a0a;font-weight:normal;letter-spacing:0.56px;transform:scaleX(0.867);transform-origin:0 0;">HAR1</div><div class="t" style="left:345.8px;top:433px;font-size:9.8px;line-height:9.8px;color:#0a0a0a;font-weight:normal;letter-spacing:0.56px;transform:scaleX(0.878);transform-origin:0 0;">AUDIT</div><div class="t" style="left:491.8px;top:433px;font-size:9.8px;line-height:9.8px;color:#0a0a0a;font-weight:normal;letter-spacing:0.56px;transform:scaleX(0.832);transform-origin:0 0;">WORKPAPERS</div><div class="t" style="left:637.0px;top:433px;font-size:9.8px;line-height:9.8px;color:#0a0a0a;font-weight:normal;letter-spacing:0.56px;transform:scaleX(0.872);transform-origin:0 0;">ANALYSIS OF OTHER EXPENSES</div><div class="t" style="left:918.4px;top:433px;font-size:9.8px;line-height:9.8px;color:#0a0a0a;font-weight:normal;letter-spacing:0.12px;">2017</div><div class="t" style="left:952.0px;top:433px;font-size:9.8px;line-height:9.8px;color:#0a0a0a;font-weight:normal;letter-spacing:0.32px;">12/31</div><div class="t" style="left:992.5px;top:433px;font-size:9.8px;line-height:9.8px;color:#0a0a0a;font-weight:normal;letter-spacing:0.42px;">04/02/2019</div><div class="t" style="left:1057.5px;top:422px;font-size:9.8px;line-height:9.8px;color:#0a0a0a;font-weight:normal;letter-spacing:0px;transform:scaleX(0.94);transform-origin:0 0;">Luel</div><div class="t" style="left:1057.5px;top:444px;font-size:9.8px;line-height:9.8px;color:#0a0a0a;font-weight:normal;letter-spacing:0.25px;">12/1</div><div class="b" style="left:0px;top:479px;width:1076px;height:1px;background:#cdcdcd"></div><div class="b cb" style="left:10px;top:461px"></div><svg class="b" style="left:50px;top:459px" width="18" height="16"><use href="#i_xls"/></svg><div class="t" style="left:68.0px;top:465px;font-size:10px;line-height:10px;color:#111;font-weight:normal;letter-spacing:0px;">p</div><div class="t" style="left:99.0px;top:463px;font-size:9.8px;line-height:9.8px;color:#0a0a0a;font-weight:normal;letter-spacing:0.56px;transform:scaleX(0.878);transform-origin:0 0;">HARWELL INDUSTRIES</div><div class="t" style="left:244.5px;top:463px;font-size:9.8px;line-height:9.8px;color:#0a0a0a;font-weight:normal;letter-spacing:0.56px;transform:scaleX(0.867);transform-origin:0 0;">HAR1</div><div class="t" style="left:345.8px;top:463px;font-size:9.8px;line-height:9.8px;color:#0a0a0a;font-weight:normal;letter-spacing:0.56px;transform:scaleX(0.878);transform-origin:0 0;">AUDIT</div><div class="t" style="left:491.8px;top:463px;font-size:9.8px;line-height:9.8px;color:#0a0a0a;font-weight:normal;letter-spacing:0.56px;transform:scaleX(0.832);transform-origin:0 0;">WORKPAPERS</div><div class="t" style="left:637.0px;top:463px;font-size:9.8px;line-height:9.8px;color:#0a0a0a;font-weight:normal;letter-spacing:0.56px;transform:scaleX(0.872);transform-origin:0 0;">FINAL ANALYTICAL REVIEW.XLS</div><div class="t" style="left:992.5px;top:463px;font-size:9.8px;line-height:9.8px;color:#0a0a0a;font-weight:normal;letter-spacing:0.42px;">05/13/2019</div><div class="b" style="left:0px;top:503px;width:1076px;height:1px;background:#cdcdcd"></div><div class="b cb" style="left:10px;top:486px"></div><svg class="b" style="left:50px;top:483px" width="18" height="16"><use href="#i_xlsx"/></svg><div class="t" style="left:68.0px;top:490px;font-size:10px;line-height:10px;color:#111;font-weight:normal;letter-spacing:0px;">p</div><div class="t" style="left:99.0px;top:487px;font-size:9.8px;line-height:9.8px;color:#0a0a0a;font-weight:normal;letter-spacing:0.56px;transform:scaleX(0.878);transform-origin:0 0;">HARWELL INDUSTRIES</div><div class="t" style="left:244.5px;top:487px;font-size:9.8px;line-height:9.8px;color:#0a0a0a;font-weight:normal;letter-spacing:0.56px;transform:scaleX(0.867);transform-origin:0 0;">HAR1</div><div class="t" style="left:345.8px;top:487px;font-size:9.8px;line-height:9.8px;color:#0a0a0a;font-weight:normal;letter-spacing:0.56px;transform:scaleX(0.878);transform-origin:0 0;">AUDIT</div><div class="t" style="left:491.8px;top:487px;font-size:9.8px;line-height:9.8px;color:#0a0a0a;font-weight:normal;letter-spacing:0.56px;transform:scaleX(0.832);transform-origin:0 0;">WORKPAPERS</div><div class="t" style="left:637.0px;top:487px;font-size:9.8px;line-height:9.8px;color:#0a0a0a;font-weight:normal;letter-spacing:0.56px;transform:scaleX(0.872);transform-origin:0 0;">HARWELL INDUSTRIES-2018 AUDIT IC-BALANCES...</div><div class="t" style="left:992.5px;top:487px;font-size:9.8px;line-height:9.8px;color:#0a0a0a;font-weight:normal;letter-spacing:0.42px;">05/13/2019</div><div class="b" style="left:0px;top:527px;width:1076px;height:1px;background:#cdcdcd"></div><div class="b cb" style="left:10px;top:510px"></div><svg class="b" style="left:53px;top:507px" width="18" height="16"><use href="#i_xlsx"/></svg><div class="t" style="left:99.0px;top:511px;font-size:9.8px;line-height:9.8px;color:#0a0a0a;font-weight:normal;letter-spacing:0.56px;transform:scaleX(0.878);transform-origin:0 0;">HARWELL INDUSTRIES</div><div class="t" style="left:244.5px;top:511px;font-size:9.8px;line-height:9.8px;color:#0a0a0a;font-weight:normal;letter-spacing:0.56px;transform:scaleX(0.867);transform-origin:0 0;">HAR1</div><div class="t" style="left:345.8px;top:511px;font-size:9.8px;line-height:9.8px;color:#0a0a0a;font-weight:normal;letter-spacing:0.56px;transform:scaleX(0.878);transform-origin:0 0;">AUDIT</div><div class="t" style="left:491.8px;top:511px;font-size:9.8px;line-height:9.8px;color:#0a0a0a;font-weight:normal;letter-spacing:0.56px;transform:scaleX(0.832);transform-origin:0 0;">WORKPAPERS</div><div class="t" style="left:637.0px;top:511px;font-size:9.8px;line-height:9.8px;color:#0a0a0a;font-weight:normal;letter-spacing:0.56px;transform:scaleX(0.872);transform-origin:0 0;">ACE ADVERTISING TRAINING TRIAL BALANCES</div><div class="t" style="left:918.4px;top:511px;font-size:9.8px;line-height:9.8px;color:#0a0a0a;font-weight:normal;letter-spacing:0.12px;">2018</div><div class="t" style="left:952.0px;top:511px;font-size:9.8px;line-height:9.8px;color:#0a0a0a;font-weight:normal;letter-spacing:0.32px;">12/31</div><div class="t" style="left:992.5px;top:511px;font-size:9.8px;line-height:9.8px;color:#0a0a0a;font-weight:normal;letter-spacing:0.42px;">05/16/2019</div><div class="b" style="left:0px;top:552px;width:1076px;height:1px;background:#cdcdcd"></div><div class="b cb" style="left:10px;top:534px"></div><svg class="b" style="left:53px;top:531px" width="18" height="16"><use href="#i_xlsx"/></svg><div class="t" style="left:99.0px;top:536px;font-size:9.8px;line-height:9.8px;color:#0a0a0a;font-weight:normal;letter-spacing:0.56px;transform:scaleX(0.878);transform-origin:0 0;">HARWELL INDUSTRIES</div><div class="t" style="left:244.5px;top:536px;font-size:9.8px;line-height:9.8px;color:#0a0a0a;font-weight:normal;letter-spacing:0.56px;transform:scaleX(0.867);transform-origin:0 0;">HAR1</div><div class="t" style="left:345.8px;top:536px;font-size:9.8px;line-height:9.8px;color:#0a0a0a;font-weight:normal;letter-spacing:0.56px;transform:scaleX(0.878);transform-origin:0 0;">AUDIT</div><div class="t" style="left:491.8px;top:536px;font-size:9.8px;line-height:9.8px;color:#0a0a0a;font-weight:normal;letter-spacing:0.56px;transform:scaleX(0.832);transform-origin:0 0;">WORKPAPERS</div><div class="t" style="left:637.0px;top:536px;font-size:9.8px;line-height:9.8px;color:#0a0a0a;font-weight:normal;letter-spacing:0.56px;transform:scaleX(0.872);transform-origin:0 0;">CASH LS</div><div class="t" style="left:918.4px;top:536px;font-size:9.8px;line-height:9.8px;color:#0a0a0a;font-weight:normal;letter-spacing:0.12px;">2019</div><div class="t" style="left:952.0px;top:536px;font-size:9.8px;line-height:9.8px;color:#0a0a0a;font-weight:normal;letter-spacing:0.32px;">12/31</div><div class="t" style="left:992.5px;top:536px;font-size:9.8px;line-height:9.8px;color:#0a0a0a;font-weight:normal;letter-spacing:0.42px;">06/03/2019</div><div class="b" style="left:0px;top:576px;width:1076px;height:1px;background:#cdcdcd"></div><div class="b cb" style="left:10px;top:559px"></div><svg class="b" style="left:53px;top:556px" width="18" height="16"><use href="#i_xlsx"/></svg><div class="t" style="left:99.0px;top:560px;font-size:9.8px;line-height:9.8px;color:#0a0a0a;font-weight:normal;letter-spacing:0.56px;transform:scaleX(0.878);transform-origin:0 0;">HARWELL INDUSTRIES</div><div class="t" style="left:244.5px;top:560px;font-size:9.8px;line-height:9.8px;color:#0a0a0a;font-weight:normal;letter-spacing:0.56px;transform:scaleX(0.867);transform-origin:0 0;">HAR1</div><div class="t" style="left:345.8px;top:560px;font-size:9.8px;line-height:9.8px;color:#0a0a0a;font-weight:normal;letter-spacing:0.56px;transform:scaleX(0.878);transform-origin:0 0;">AUDIT</div><div class="t" style="left:491.8px;top:560px;font-size:9.8px;line-height:9.8px;color:#0a0a0a;font-weight:normal;letter-spacing:0.56px;transform:scaleX(0.832);transform-origin:0 0;">WORKPAPERS</div><div class="t" style="left:637.0px;top:560px;font-size:9.8px;line-height:9.8px;color:#0a0a0a;font-weight:normal;letter-spacing:0.56px;transform:scaleX(0.872);transform-origin:0 0;">ACCOUNTS RECEIVABLE AGING</div><div class="t" style="left:918.4px;top:560px;font-size:9.8px;line-height:9.8px;color:#0a0a0a;font-weight:normal;letter-spacing:0.12px;">2019</div><div class="t" style="left:952.0px;top:560px;font-size:9.8px;line-height:9.8px;color:#0a0a0a;font-weight:normal;letter-spacing:0.32px;">12/31</div><div class="t" style="left:992.5px;top:560px;font-size:9.8px;line-height:9.8px;color:#0a0a0a;font-weight:normal;letter-spacing:0.42px;">06/03/2019</div><div class="b" style="left:0px;top:600px;width:1076px;height:1px;background:#cdcdcd"></div><div class="b cb" style="left:10px;top:583px"></div><svg class="b" style="left:53px;top:581px" width="18" height="16"><use href="#i_doc"/></svg><div class="t" style="left:99.0px;top:584px;font-size:9.8px;line-height:9.8px;color:#0a0a0a;font-weight:normal;letter-spacing:0.56px;transform:scaleX(0.878);transform-origin:0 0;">HARWELL INDUSTRIES</div><div class="t" style="left:244.5px;top:584px;font-size:9.8px;line-height:9.8px;color:#0a0a0a;font-weight:normal;letter-spacing:0.56px;transform:scaleX(0.867);transform-origin:0 0;">HAR1</div><div class="t" style="left:345.8px;top:584px;font-size:9.8px;line-height:9.8px;color:#0a0a0a;font-weight:normal;letter-spacing:0.56px;transform:scaleX(0.878);transform-origin:0 0;">AUDIT</div><div class="t" style="left:491.8px;top:584px;font-size:9.8px;line-height:9.8px;color:#0a0a0a;font-weight:normal;letter-spacing:0.56px;transform:scaleX(0.832);transform-origin:0 0;">WORKPAPERS</div><div class="t" style="left:637.0px;top:584px;font-size:9.8px;line-height:9.8px;color:#0a0a0a;font-weight:normal;letter-spacing:0.56px;transform:scaleX(0.872);transform-origin:0 0;">REPORT QUALIFIED BECAUSE OF A SCOPE LIMIT...</div><div class="t" style="left:918.4px;top:584px;font-size:9.8px;line-height:9.8px;color:#0a0a0a;font-weight:normal;letter-spacing:0.12px;">2019</div><div class="t" style="left:952.0px;top:584px;font-size:9.8px;line-height:9.8px;color:#0a0a0a;font-weight:normal;letter-spacing:0.32px;">12/31</div><div class="t" style="left:992.5px;top:584px;font-size:9.8px;line-height:9.8px;color:#0a0a0a;font-weight:normal;letter-spacing:0.42px;">06/03/2019</div><div class="b" style="left:0px;top:625px;width:1076px;height:1px;background:#cdcdcd"></div><div class="b cb" style="left:10px;top:607px"></div><svg class="b" style="left:53px;top:605px" width="18" height="16"><use href="#i_doc"/></svg><div class="t" style="left:99.0px;top:608px;font-size:9.8px;line-height:9.8px;color:#0a0a0a;font-weight:normal;letter-spacing:0.56px;transform:scaleX(0.878);transform-origin:0 0;">HARWELL INDUSTRIES</div><div class="t" style="left:244.5px;top:608px;font-size:9.8px;line-height:9.8px;color:#0a0a0a;font-weight:normal;letter-spacing:0.56px;transform:scaleX(0.867);transform-origin:0 0;">HAR1</div><div class="t" style="left:345.8px;top:608px;font-size:9.8px;line-height:9.8px;color:#0a0a0a;font-weight:normal;letter-spacing:0.56px;transform:scaleX(0.878);transform-origin:0 0;">AUDIT</div><div class="t" style="left:491.8px;top:608px;font-size:9.8px;line-height:9.8px;color:#0a0a0a;font-weight:normal;letter-spacing:0.56px;transform:scaleX(0.832);transform-origin:0 0;">WORKPAPERS</div><div class="t" style="left:637.0px;top:608px;font-size:9.8px;line-height:9.8px;color:#0a0a0a;font-weight:normal;letter-spacing:0.56px;transform:scaleX(0.872);transform-origin:0 0;">FAILURE TO CONFIRM RECEIVABLES (NOT IMPOS...</div><div class="t" style="left:918.4px;top:608px;font-size:9.8px;line-height:9.8px;color:#0a0a0a;font-weight:normal;letter-spacing:0.12px;">2019</div><div class="t" style="left:952.0px;top:608px;font-size:9.8px;line-height:9.8px;color:#0a0a0a;font-weight:normal;letter-spacing:0.32px;">12/31</div><div class="t" style="left:992.5px;top:608px;font-size:9.8px;line-height:9.8px;color:#0a0a0a;font-weight:normal;letter-spacing:0.42px;">06/03/2019</div><div class="b" style="left:0px;top:649px;width:1076px;height:1px;background:#cdcdcd"></div><div class="b cb" style="left:10px;top:632px"></div><svg class="b" style="left:53px;top:630px" width="18" height="16"><use href="#i_doc"/></svg><div class="t" style="left:99.0px;top:633px;font-size:9.8px;line-height:9.8px;color:#0a0a0a;font-weight:normal;letter-spacing:0.56px;transform:scaleX(0.878);transform-origin:0 0;">HARWELL INDUSTRIES</div><div class="t" style="left:244.5px;top:633px;font-size:9.8px;line-height:9.8px;color:#0a0a0a;font-weight:normal;letter-spacing:0.56px;transform:scaleX(0.867);transform-origin:0 0;">HAR1</div><div class="t" style="left:345.8px;top:633px;font-size:9.8px;line-height:9.8px;color:#0a0a0a;font-weight:normal;letter-spacing:0.56px;transform:scaleX(0.878);transform-origin:0 0;">AUDIT</div><div class="t" style="left:491.8px;top:633px;font-size:9.8px;line-height:9.8px;color:#0a0a0a;font-weight:normal;letter-spacing:0.56px;transform:scaleX(0.832);transform-origin:0 0;">WORKPAPERS</div><div class="t" style="left:637.0px;top:633px;font-size:9.8px;line-height:9.8px;color:#0a0a0a;font-weight:normal;letter-spacing:0.56px;transform:scaleX(0.872);transform-origin:0 0;">INITIAL AUDIT-BEGINNING INVENTORY NOT OBS...</div><div class="t" style="left:918.4px;top:633px;font-size:9.8px;line-height:9.8px;color:#0a0a0a;font-weight:normal;letter-spacing:0.12px;">2019</div><div class="t" style="left:952.0px;top:633px;font-size:9.8px;line-height:9.8px;color:#0a0a0a;font-weight:normal;letter-spacing:0.32px;">12/31</div><div class="t" style="left:992.5px;top:633px;font-size:9.8px;line-height:9.8px;color:#0a0a0a;font-weight:normal;letter-spacing:0.42px;">06/03/2019</div><div class="b" style="left:0px;top:673px;width:1076px;height:1px;background:#cdcdcd"></div><div class="b cb" style="left:10px;top:656px"></div><svg class="b" style="left:53px;top:654px" width="18" height="16"><use href="#i_doc"/></svg><div class="t" style="left:99.0px;top:657px;font-size:9.8px;line-height:9.8px;color:#0a0a0a;font-weight:normal;letter-spacing:0.56px;transform:scaleX(0.878);transform-origin:0 0;">HARWELL INDUSTRIES</div><div class="t" style="left:244.5px;top:657px;font-size:9.8px;line-height:9.8px;color:#0a0a0a;font-weight:normal;letter-spacing:0.56px;transform:scaleX(0.867);transform-origin:0 0;">HAR1</div><div class="t" style="left:345.8px;top:657px;font-size:9.8px;line-height:9.8px;color:#0a0a0a;font-weight:normal;letter-spacing:0.56px;transform:scaleX(0.878);transform-origin:0 0;">AUDIT</div><div class="t" style="left:491.8px;top:657px;font-size:9.8px;line-height:9.8px;color:#0a0a0a;font-weight:normal;letter-spacing:0.56px;transform:scaleX(0.832);transform-origin:0 0;">WORKPAPERS</div><div class="t" style="left:637.0px;top:657px;font-size:9.8px;line-height:9.8px;color:#0a0a0a;font-weight:normal;letter-spacing:0.56px;transform:scaleX(0.872);transform-origin:0 0;">INVENTORY NOT OBSERVED-QUALIFIED OPINION</div><div class="t" style="left:918.4px;top:657px;font-size:9.8px;line-height:9.8px;color:#0a0a0a;font-weight:normal;letter-spacing:0.12px;">2019</div><div class="t" style="left:952.0px;top:657px;font-size:9.8px;line-height:9.8px;color:#0a0a0a;font-weight:normal;letter-spacing:0.32px;">12/31</div><div class="t" style="left:992.5px;top:657px;font-size:9.8px;line-height:9.8px;color:#0a0a0a;font-weight:normal;letter-spacing:0.42px;">06/03/2019</div><div class="b" style="left:0px;top:698px;width:1076px;height:1px;background:#cdcdcd"></div><div class="b cb" style="left:10px;top:680px"></div><svg class="b" style="left:53px;top:678px" width="18" height="16"><use href="#i_doc"/></svg><div class="t" style="left:99.0px;top:681px;font-size:9.8px;line-height:9.8px;color:#0a0a0a;font-weight:normal;letter-spacing:0.56px;transform:scaleX(0.878);transform-origin:0 0;">HARWELL INDUSTRIES</div><div class="t" style="left:244.5px;top:681px;font-size:9.8px;line-height:9.8px;color:#0a0a0a;font-weight:normal;letter-spacing:0.56px;transform:scaleX(0.867);transform-origin:0 0;">HAR1</div><div class="t" style="left:345.8px;top:681px;font-size:9.8px;line-height:9.8px;color:#0a0a0a;font-weight:normal;letter-spacing:0.56px;transform:scaleX(0.878);transform-origin:0 0;">AUDIT</div><div class="t" style="left:491.8px;top:681px;font-size:9.8px;line-height:9.8px;color:#0a0a0a;font-weight:normal;letter-spacing:0.56px;transform:scaleX(0.832);transform-origin:0 0;">WORKPAPERS</div><div class="t" style="left:637.0px;top:681px;font-size:9.8px;line-height:9.8px;color:#0a0a0a;font-weight:normal;letter-spacing:0.56px;transform:scaleX(0.872);transform-origin:0 0;">ANALYSIS OF OTHER EXPENSES</div><div class="t" style="left:918.4px;top:681px;font-size:9.8px;line-height:9.8px;color:#0a0a0a;font-weight:normal;letter-spacing:0.12px;">2019</div><div class="t" style="left:952.0px;top:681px;font-size:9.8px;line-height:9.8px;color:#0a0a0a;font-weight:normal;letter-spacing:0.32px;">12/31</div><div class="t" style="left:992.5px;top:681px;font-size:9.8px;line-height:9.8px;color:#0a0a0a;font-weight:normal;letter-spacing:0.42px;">06/03/2019</div><div class="b" style="left:0px;top:722px;width:1076px;height:1px;background:#cdcdcd"></div><div class="b cb" style="left:10px;top:705px"></div><svg class="b" style="left:53px;top:701px" width="18" height="16"><use href="#i_pdf"/></svg><div class="t" style="left:99.0px;top:706px;font-size:9.8px;line-height:9.8px;color:#0a0a0a;font-weight:normal;letter-spacing:0.56px;transform:scaleX(0.878);transform-origin:0 0;">HARWELL INDUSTRIES</div><div class="t" style="left:244.5px;top:706px;font-size:9.8px;line-height:9.8px;color:#0a0a0a;font-weight:normal;letter-spacing:0.56px;transform:scaleX(0.867);transform-origin:0 0;">HAR1</div><div class="t" style="left:345.8px;top:706px;font-size:9.8px;line-height:9.8px;color:#0a0a0a;font-weight:normal;letter-spacing:0.56px;transform:scaleX(0.878);transform-origin:0 0;">AUDIT</div><div class="t" style="left:491.8px;top:706px;font-size:9.8px;line-height:9.8px;color:#0a0a0a;font-weight:normal;letter-spacing:0.56px;transform:scaleX(0.832);transform-origin:0 0;">WORKPAPERS</div><div class="t" style="left:637.0px;top:706px;font-size:9.8px;line-height:9.8px;color:#0a0a0a;font-weight:normal;letter-spacing:0.56px;transform:scaleX(0.872);transform-origin:0 0;">BANK STATEMENT</div><div class="t" style="left:918.4px;top:706px;font-size:9.8px;line-height:9.8px;color:#0a0a0a;font-weight:normal;letter-spacing:0.12px;">2019</div><div class="t" style="left:952.0px;top:706px;font-size:9.8px;line-height:9.8px;color:#0a0a0a;font-weight:normal;letter-spacing:0.32px;">12/31</div><div class="t" style="left:992.5px;top:706px;font-size:9.8px;line-height:9.8px;color:#0a0a0a;font-weight:normal;letter-spacing:0.42px;">06/03/2019</div><div class="b" style="left:0px;top:746px;width:1076px;height:1px;background:#cdcdcd"></div><div class="b cb" style="left:10px;top:729px"></div><svg class="b" style="left:53px;top:725px" width="18" height="16"><use href="#i_pdf"/></svg><div class="t" style="left:99.0px;top:730px;font-size:9.8px;line-height:9.8px;color:#0a0a0a;font-weight:normal;letter-spacing:0.56px;transform:scaleX(0.878);transform-origin:0 0;">HARWELL INDUSTRIES</div><div class="t" style="left:244.5px;top:730px;font-size:9.8px;line-height:9.8px;color:#0a0a0a;font-weight:normal;letter-spacing:0.56px;transform:scaleX(0.867);transform-origin:0 0;">HAR1</div><div class="t" style="left:345.8px;top:730px;font-size:9.8px;line-height:9.8px;color:#0a0a0a;font-weight:normal;letter-spacing:0.56px;transform:scaleX(0.878);transform-origin:0 0;">AUDIT</div><div class="t" style="left:491.8px;top:730px;font-size:9.8px;line-height:9.8px;color:#0a0a0a;font-weight:normal;letter-spacing:0.56px;transform:scaleX(0.832);transform-origin:0 0;">WORKPAPERS</div><div class="t" style="left:637.0px;top:730px;font-size:9.8px;line-height:9.8px;color:#0a0a0a;font-weight:normal;letter-spacing:0.56px;transform:scaleX(0.872);transform-origin:0 0;">CHASE BANK STATEMENT</div><div class="t" style="left:918.4px;top:730px;font-size:9.8px;line-height:9.8px;color:#0a0a0a;font-weight:normal;letter-spacing:0.12px;">2019</div><div class="t" style="left:952.0px;top:730px;font-size:9.8px;line-height:9.8px;color:#0a0a0a;font-weight:normal;letter-spacing:0.32px;">12/31</div><div class="t" style="left:992.5px;top:730px;font-size:9.8px;line-height:9.8px;color:#0a0a0a;font-weight:normal;letter-spacing:0.42px;">06/03/2019</div><div class="b" style="left:0px;top:770px;width:1076px;height:1px;background:#cdcdcd"></div><div class="b cb" style="left:10px;top:753px"></div><svg class="b" style="left:53px;top:750px" width="18" height="16"><use href="#i_xlsx"/></svg><div class="t" style="left:99.0px;top:754px;font-size:9.8px;line-height:9.8px;color:#0a0a0a;font-weight:normal;letter-spacing:0.56px;transform:scaleX(0.878);transform-origin:0 0;">HARWELL INDUSTRIES</div><div class="t" style="left:244.5px;top:754px;font-size:9.8px;line-height:9.8px;color:#0a0a0a;font-weight:normal;letter-spacing:0.56px;transform:scaleX(0.867);transform-origin:0 0;">HAR1</div><div class="t" style="left:345.8px;top:754px;font-size:9.8px;line-height:9.8px;color:#0a0a0a;font-weight:normal;letter-spacing:0.56px;transform:scaleX(0.878);transform-origin:0 0;">AUDIT</div><div class="t" style="left:491.8px;top:754px;font-size:9.8px;line-height:9.8px;color:#0a0a0a;font-weight:normal;letter-spacing:0.56px;transform:scaleX(0.832);transform-origin:0 0;">WORKPAPERS</div><div class="t" style="left:637.0px;top:754px;font-size:9.8px;line-height:9.8px;color:#0a0a0a;font-weight:normal;letter-spacing:0.56px;transform:scaleX(0.872);transform-origin:0 0;">ACE ADVERTISING TRAINING TRIAL BALANCES</div><div class="t" style="left:918.4px;top:754px;font-size:9.8px;line-height:9.8px;color:#0a0a0a;font-weight:normal;letter-spacing:0.12px;">2019</div><div class="t" style="left:952.0px;top:754px;font-size:9.8px;line-height:9.8px;color:#0a0a0a;font-weight:normal;letter-spacing:0.32px;">12/31</div><div class="t" style="left:992.5px;top:754px;font-size:9.8px;line-height:9.8px;color:#0a0a0a;font-weight:normal;letter-spacing:0.42px;">06/03/2019</div><div class="b" style="left:0px;top:795px;width:1076px;height:1px;background:#cdcdcd"></div><div class="b cb" style="left:10px;top:778px"></div><svg class="b" style="left:53px;top:775px" width="18" height="16"><use href="#i_xlsx"/></svg><div class="t" style="left:99.0px;top:779px;font-size:9.8px;line-height:9.8px;color:#0a0a0a;font-weight:normal;letter-spacing:0.56px;transform:scaleX(0.878);transform-origin:0 0;">HARWELL INDUSTRIES</div><div class="t" style="left:244.5px;top:779px;font-size:9.8px;line-height:9.8px;color:#0a0a0a;font-weight:normal;letter-spacing:0.56px;transform:scaleX(0.867);transform-origin:0 0;">HAR1</div><div class="t" style="left:345.8px;top:779px;font-size:9.8px;line-height:9.8px;color:#0a0a0a;font-weight:normal;letter-spacing:0.56px;transform:scaleX(0.878);transform-origin:0 0;">AUDIT</div><div class="t" style="left:491.8px;top:779px;font-size:9.8px;line-height:9.8px;color:#0a0a0a;font-weight:normal;letter-spacing:0.56px;transform:scaleX(0.832);transform-origin:0 0;">WORKPAPERS</div><div class="t" style="left:637.0px;top:779px;font-size:9.8px;line-height:9.8px;color:#0a0a0a;font-weight:normal;letter-spacing:0.56px;transform:scaleX(0.872);transform-origin:0 0;">ACE ADVERTISING TRAINING TRIAL BALANCES</div><div class="t" style="left:918.4px;top:779px;font-size:9.8px;line-height:9.8px;color:#0a0a0a;font-weight:normal;letter-spacing:0.12px;">2019</div><div class="t" style="left:952.0px;top:779px;font-size:9.8px;line-height:9.8px;color:#0a0a0a;font-weight:normal;letter-spacing:0.32px;">12/31</div><div class="t" style="left:992.5px;top:779px;font-size:9.8px;line-height:9.8px;color:#0a0a0a;font-weight:normal;letter-spacing:0.42px;">06/03/2019</div><div class="b" style="left:0px;top:819px;width:1076px;height:1px;background:#cdcdcd"></div><div class="b cb" style="left:10px;top:802px"></div><svg class="b" style="left:53px;top:800px" width="18" height="16"><use href="#i_xls"/></svg><div class="t" style="left:99.0px;top:803px;font-size:9.8px;line-height:9.8px;color:#0a0a0a;font-weight:normal;letter-spacing:0.56px;transform:scaleX(0.878);transform-origin:0 0;">HARWELL INDUSTRIES</div><div class="t" style="left:244.5px;top:803px;font-size:9.8px;line-height:9.8px;color:#0a0a0a;font-weight:normal;letter-spacing:0.56px;transform:scaleX(0.867);transform-origin:0 0;">HAR1</div><div class="t" style="left:345.8px;top:803px;font-size:9.8px;line-height:9.8px;color:#0a0a0a;font-weight:normal;letter-spacing:0.56px;transform:scaleX(0.878);transform-origin:0 0;">AUDIT</div><div class="t" style="left:491.8px;top:803px;font-size:9.8px;line-height:9.8px;color:#0a0a0a;font-weight:normal;letter-spacing:0.56px;transform:scaleX(0.832);transform-origin:0 0;">WORKPAPERS</div><div class="t" style="left:637.0px;top:803px;font-size:9.8px;line-height:9.8px;color:#0a0a0a;font-weight:normal;letter-spacing:0.56px;transform:scaleX(0.872);transform-origin:0 0;">BALANCE SHEET</div><div class="t" style="left:918.4px;top:803px;font-size:9.8px;line-height:9.8px;color:#0a0a0a;font-weight:normal;letter-spacing:0.12px;">2019</div><div class="t" style="left:952.0px;top:803px;font-size:9.8px;line-height:9.8px;color:#0a0a0a;font-weight:normal;letter-spacing:0.32px;">12/31</div><div class="t" style="left:992.5px;top:803px;font-size:9.8px;line-height:9.8px;color:#0a0a0a;font-weight:normal;letter-spacing:0.42px;">06/03/2019</div><div class="b" style="left:0px;top:843px;width:1076px;height:1px;background:#cdcdcd"></div><div class="b cb" style="left:10px;top:826px"></div><svg class="b" style="left:53px;top:824px" width="18" height="16"><use href="#i_xls"/></svg><div class="t" style="left:99.0px;top:827px;font-size:9.8px;line-height:9.8px;color:#0a0a0a;font-weight:normal;letter-spacing:0.56px;transform:scaleX(0.878);transform-origin:0 0;">HARWELL INDUSTRIES</div><div class="t" style="left:244.5px;top:827px;font-size:9.8px;line-height:9.8px;color:#0a0a0a;font-weight:normal;letter-spacing:0.56px;transform:scaleX(0.867);transform-origin:0 0;">HAR1</div><div class="t" style="left:345.8px;top:827px;font-size:9.8px;line-height:9.8px;color:#0a0a0a;font-weight:normal;letter-spacing:0.56px;transform:scaleX(0.878);transform-origin:0 0;">AUDIT</div><div class="t" style="left:491.8px;top:827px;font-size:9.8px;line-height:9.8px;color:#0a0a0a;font-weight:normal;letter-spacing:0.56px;transform:scaleX(0.832);transform-origin:0 0;">WORKPAPERS</div><div class="t" style="left:637.0px;top:827px;font-size:9.8px;line-height:9.8px;color:#0a0a0a;font-weight:normal;letter-spacing:0.56px;transform:scaleX(0.872);transform-origin:0 0;">INCOME STATEMENT</div><div class="t" style="left:918.4px;top:827px;font-size:9.8px;line-height:9.8px;color:#0a0a0a;font-weight:normal;letter-spacing:0.12px;">2019</div><div class="t" style="left:952.0px;top:827px;font-size:9.8px;line-height:9.8px;color:#0a0a0a;font-weight:normal;letter-spacing:0.32px;">12/31</div><div class="t" style="left:992.5px;top:827px;font-size:9.8px;line-height:9.8px;color:#0a0a0a;font-weight:normal;letter-spacing:0.42px;">06/03/2019</div><div class="b" style="left:0px;top:868px;width:1076px;height:1px;background:#cdcdcd"></div><div class="b cb" style="left:10px;top:851px"></div><svg class="b" style="left:53px;top:847px" width="18" height="16"><use href="#i_xlsx"/></svg><div class="t" style="left:99.0px;top:852px;font-size:9.8px;line-height:9.8px;color:#0a0a0a;font-weight:normal;letter-spacing:0.56px;transform:scaleX(0.878);transform-origin:0 0;">HARWELL INDUSTRIES</div><div class="t" style="left:244.5px;top:852px;font-size:9.8px;line-height:9.8px;color:#0a0a0a;font-weight:normal;letter-spacing:0.56px;transform:scaleX(0.867);transform-origin:0 0;">HAR1</div><div class="t" style="left:345.8px;top:852px;font-size:9.8px;line-height:9.8px;color:#0a0a0a;font-weight:normal;letter-spacing:0.56px;transform:scaleX(0.878);transform-origin:0 0;">AUDIT</div><div class="t" style="left:491.8px;top:852px;font-size:9.8px;line-height:9.8px;color:#0a0a0a;font-weight:normal;letter-spacing:0.56px;transform:scaleX(0.832);transform-origin:0 0;">WORKPAPERS</div><div class="t" style="left:637.0px;top:852px;font-size:9.8px;line-height:9.8px;color:#0a0a0a;font-weight:normal;letter-spacing:0.56px;transform:scaleX(0.872);transform-origin:0 0;">FINAL REVIEW REPORT</div><div class="t" style="left:918.4px;top:852px;font-size:9.8px;line-height:9.8px;color:#0a0a0a;font-weight:normal;letter-spacing:0.12px;">2019</div><div class="t" style="left:952.0px;top:852px;font-size:9.8px;line-height:9.8px;color:#0a0a0a;font-weight:normal;letter-spacing:0.32px;">12/31</div><div class="t" style="left:992.5px;top:852px;font-size:9.8px;line-height:9.8px;color:#0a0a0a;font-weight:normal;letter-spacing:0.42px;">06/03/2019</div><div class="b" style="left:0px;top:892px;width:1076px;height:1px;background:#cdcdcd"></div><div class="b cb" style="left:10px;top:875px"></div><svg class="b" style="left:53px;top:872px" width="18" height="16"><use href="#i_xlsx"/></svg><div class="t" style="left:99.0px;top:876px;font-size:9.8px;line-height:9.8px;color:#0a0a0a;font-weight:normal;letter-spacing:0.56px;transform:scaleX(0.878);transform-origin:0 0;">HARWELL INDUSTRIES</div><div class="t" style="left:244.5px;top:876px;font-size:9.8px;line-height:9.8px;color:#0a0a0a;font-weight:normal;letter-spacing:0.56px;transform:scaleX(0.867);transform-origin:0 0;">HAR1</div><div class="t" style="left:345.8px;top:876px;font-size:9.8px;line-height:9.8px;color:#0a0a0a;font-weight:normal;letter-spacing:0.56px;transform:scaleX(0.878);transform-origin:0 0;">AUDIT</div><div class="t" style="left:491.8px;top:876px;font-size:9.8px;line-height:9.8px;color:#0a0a0a;font-weight:normal;letter-spacing:0.56px;transform:scaleX(0.832);transform-origin:0 0;">WORKPAPERS</div><div class="t" style="left:637.0px;top:876px;font-size:9.8px;line-height:9.8px;color:#0a0a0a;font-weight:normal;letter-spacing:0.56px;transform:scaleX(0.872);transform-origin:0 0;">AF TB SAMPLE</div><div class="t" style="left:918.4px;top:876px;font-size:9.8px;line-height:9.8px;color:#0a0a0a;font-weight:normal;letter-spacing:0.12px;">2019</div><div class="t" style="left:952.0px;top:876px;font-size:9.8px;line-height:9.8px;color:#0a0a0a;font-weight:normal;letter-spacing:0.32px;">12/31</div><div class="t" style="left:992.5px;top:876px;font-size:9.8px;line-height:9.8px;color:#0a0a0a;font-weight:normal;letter-spacing:0.42px;">06/03/2019</div><div class="b" style="left:0px;top:916px;width:1076px;height:1px;background:#cdcdcd"></div><div class="b cb" style="left:10px;top:899px"></div><svg class="b" style="left:53px;top:897px" width="18" height="16"><use href="#i_xls"/></svg><div class="t" style="left:99.0px;top:900px;font-size:9.8px;line-height:9.8px;color:#0a0a0a;font-weight:normal;letter-spacing:0.56px;transform:scaleX(0.878);transform-origin:0 0;">HARWELL INDUSTRIES</div><div class="t" style="left:244.5px;top:900px;font-size:9.8px;line-height:9.8px;color:#0a0a0a;font-weight:normal;letter-spacing:0.56px;transform:scaleX(0.867);transform-origin:0 0;">HAR1</div><div class="t" style="left:345.8px;top:900px;font-size:9.8px;line-height:9.8px;color:#0a0a0a;font-weight:normal;letter-spacing:0.56px;transform:scaleX(0.878);transform-origin:0 0;">AUDIT</div><div class="t" style="left:491.8px;top:900px;font-size:9.8px;line-height:9.8px;color:#0a0a0a;font-weight:normal;letter-spacing:0.56px;transform:scaleX(0.832);transform-origin:0 0;">WORKPAPERS</div><div class="t" style="left:637.0px;top:900px;font-size:9.8px;line-height:9.8px;color:#0a0a0a;font-weight:normal;letter-spacing:0.56px;transform:scaleX(0.872);transform-origin:0 0;">BANK RECONCILIATION - WACHOVIA</div><div class="t" style="left:918.4px;top:900px;font-size:9.8px;line-height:9.8px;color:#0a0a0a;font-weight:normal;letter-spacing:0.12px;">2019</div><div class="t" style="left:952.0px;top:900px;font-size:9.8px;line-height:9.8px;color:#0a0a0a;font-weight:normal;letter-spacing:0.32px;">12/31</div><div class="t" style="left:992.5px;top:900px;font-size:9.8px;line-height:9.8px;color:#0a0a0a;font-weight:normal;letter-spacing:0.42px;">06/03/2019</div><div class="b" style="left:0px;top:941px;width:1076px;height:1px;background:#cdcdcd"></div><div class="b cb" style="left:10px;top:924px"></div><svg class="b" style="left:53px;top:920px" width="18" height="16"><use href="#i_xlsx"/></svg><div class="t" style="left:99.0px;top:925px;font-size:9.8px;line-height:9.8px;color:#0a0a0a;font-weight:normal;letter-spacing:0.56px;transform:scaleX(0.878);transform-origin:0 0;">HARWELL INDUSTRIES</div><div class="t" style="left:244.5px;top:925px;font-size:9.8px;line-height:9.8px;color:#0a0a0a;font-weight:normal;letter-spacing:0.56px;transform:scaleX(0.867);transform-origin:0 0;">HAR1</div><div class="t" style="left:345.8px;top:925px;font-size:9.8px;line-height:9.8px;color:#0a0a0a;font-weight:normal;letter-spacing:0.56px;transform:scaleX(0.878);transform-origin:0 0;">AUDIT</div><div class="t" style="left:491.8px;top:925px;font-size:9.8px;line-height:9.8px;color:#0a0a0a;font-weight:normal;letter-spacing:0.56px;transform:scaleX(0.832);transform-origin:0 0;">WORKPAPERS</div><div class="t" style="left:637.0px;top:925px;font-size:9.8px;line-height:9.8px;color:#0a0a0a;font-weight:normal;letter-spacing:0.56px;transform:scaleX(0.872);transform-origin:0 0;">FIXED ASSETS LEADSHEET</div><div class="t" style="left:918.4px;top:925px;font-size:9.8px;line-height:9.8px;color:#0a0a0a;font-weight:normal;letter-spacing:0.12px;">2019</div><div class="t" style="left:952.0px;top:925px;font-size:9.8px;line-height:9.8px;color:#0a0a0a;font-weight:normal;letter-spacing:0.32px;">12/31</div><div class="t" style="left:992.5px;top:925px;font-size:9.8px;line-height:9.8px;color:#0a0a0a;font-weight:normal;letter-spacing:0.42px;">06/03/2019</div></div><div class="b" style="left:588px;top:105px;width:1px;height:926px;background:#c4c4c4"></div><div class="b" style="left:1664px;top:105px;width:16px;height:926px;background:#f1f1f1"></div><svg class="b" style="left:1667px;top:111px" width="10" height="6"><path d="M1 5 L8 5 L4.5 1.2Z" fill="#a3a3a3"/></svg><div class="b" style="left:1666px;top:122px;width:12px;height:237px;background:#c1c1c1"></div><svg class="b" style="left:1667px;top:1019px" width="10" height="6"><path d="M1 1 L8 1 L4.5 4.8Z" fill="#505050"/></svg><div class="b" style="left:584px;top:1031px;width:1080px;height:17px;background:#f1f1f1"></div><svg class="b" style="left:589px;top:1035px" width="6" height="9"><path d="M4.8 1 L4.8 8 L1 4.5Z" fill="#a3a3a3"/></svg><div class="b" style="left:601px;top:1033px;width:637px;height:13px;background:#c1c1c1"></div><svg class="b" style="left:1652px;top:1035px" width="6" height="9"><path d="M1.2 1 L1.2 8 L5 4.5Z" fill="#505050"/></svg><div class="b" style="left:1663px;top:1031px;width:17px;height:17px;background:#dcdcdc"></div><div class="b" style="left:0px;top:1048px;width:1680px;height:1px;background:#fbfbfb"></div><div class="b" style="left:0px;top:1049px;width:1680px;height:1px;background:#d9d9d9"></div>
</body></html>
